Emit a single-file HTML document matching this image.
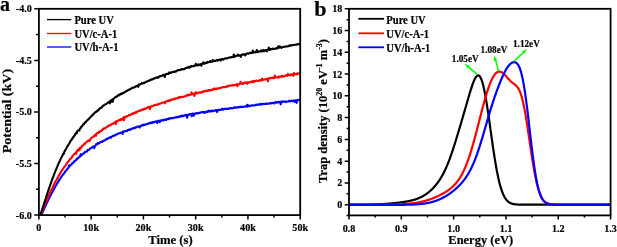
<!DOCTYPE html>
<html><head><meta charset="utf-8"><style>
html,body{margin:0;padding:0;background:#fff;}
body{width:617px;height:247px;overflow:hidden;font-family:"Liberation Serif",serif;}
svg{display:block;filter:blur(0.3px);}
</style></head><body>
<svg width="617" height="247" viewBox="0 0 617 247"><rect width="617" height="247" fill="#fff"/><defs><clipPath id="cl"><rect x="39" y="9" width="261" height="206"/></clipPath><clipPath id="cr"><rect x="349.5" y="9" width="261" height="206"/></clipPath></defs><g clip-path="url(#cl)" fill="none" stroke-width="2.1" stroke-linejoin="round"><path d="M40.20,217.35 L40.70,216.35 L41.20,215.31 L41.70,214.24 L42.20,213.15 L42.70,212.05 L43.20,210.95 L43.70,209.84 L44.20,208.74 L44.70,207.64 L45.20,206.55 L45.70,205.45 L46.20,204.37 L46.70,203.18 L47.20,202.22 L47.70,201.18 L48.20,200.16 L48.70,199.11 L49.20,198.13 L49.70,197.08 L50.20,196.09 L50.70,195.18 L51.20,194.16 L51.70,193.13 L52.20,192.20 L52.70,191.31 L53.20,190.50 L53.70,189.41 L54.20,188.51 L54.70,187.73 L55.20,186.68 L55.70,185.87 L56.20,185.13 L56.70,184.26 L57.20,183.38 L57.70,182.63 L58.20,181.39 L58.70,181.08 L59.20,180.04 L59.70,179.17 L60.20,178.68 L60.70,177.99 L61.20,177.09 L61.70,176.26 L62.20,175.72 L62.70,175.01 L63.20,174.56 L63.70,173.78 L64.20,173.01 L64.70,172.53 L65.20,171.64 L65.70,170.86 L66.20,170.53 L66.70,169.92 L67.20,169.16 L67.70,168.44 L68.20,168.07 L68.70,166.89 L69.20,165.35 L69.70,166.42 L70.20,165.37 L70.70,165.23 L71.20,164.44 L71.70,164.33 L72.20,163.11 L72.70,162.87 L73.20,162.79 L73.70,162.41 L74.20,161.02 L74.70,160.98 L75.20,160.73 L75.70,159.99 L76.20,160.14 L76.70,158.90 L77.20,158.87 L77.70,158.03 L78.20,158.27 L78.70,157.43 L79.20,156.89 L79.70,156.09 L80.20,156.61 L80.70,154.36 L81.20,155.52 L81.70,155.22 L82.20,154.59 L82.70,153.92 L83.20,153.47 L83.70,153.08 L84.20,153.30 L84.70,152.13 L85.20,151.99 L85.70,151.69 L86.20,151.48 L86.70,151.21 L87.20,151.45 L87.70,149.84 L88.20,149.97 L88.70,149.96 L89.20,149.49 L89.70,148.99 L90.20,148.50 L90.70,148.34 L91.20,147.85 L91.70,147.82 L92.20,147.04 L92.70,146.98 L93.20,146.59 L93.70,146.46 L94.20,148.12 L94.70,146.39 L95.20,145.79 L95.70,145.49 L96.20,144.20 L96.70,144.37 L97.20,144.00 L97.70,143.03 L98.20,142.95 L98.70,143.63 L99.20,143.31 L99.70,142.37 L100.20,142.18 L100.70,141.95 L101.20,141.91 L101.70,141.81 L102.20,141.93 L102.70,141.03 L103.20,141.04 L103.70,140.60 L104.20,140.79 L104.70,140.25 L105.20,140.17 L105.70,139.23 L106.20,139.23 L106.70,138.80 L107.20,139.20 L107.70,138.72 L108.20,138.21 L108.70,137.93 L109.20,137.95 L109.70,137.38 L110.20,137.08 L110.70,137.24 L111.20,137.56 L111.70,136.58 L112.20,136.26 L112.70,135.86 L113.20,135.59 L113.70,135.89 L114.20,135.76 L114.70,135.31 L115.20,135.18 L115.70,134.91 L116.20,134.70 L116.70,134.02 L117.20,134.11 L117.70,134.06 L118.20,133.60 L118.70,133.48 L119.20,133.18 L119.70,133.12 L120.20,133.25 L120.70,132.70 L121.20,132.57 L121.70,132.64 L122.20,132.40 L122.70,133.93 L123.20,131.25 L123.70,131.88 L124.20,131.32 L124.70,131.30 L125.20,131.32 L125.70,131.20 L126.20,131.00 L126.70,130.57 L127.20,130.80 L127.70,130.09 L128.20,129.95 L128.70,130.04 L129.20,129.48 L129.70,130.07 L130.20,129.57 L130.70,129.72 L131.20,128.94 L131.70,128.67 L132.20,128.65 L132.70,128.64 L133.20,128.11 L133.70,128.21 L134.20,127.93 L134.70,128.23 L135.20,127.43 L135.70,127.75 L136.20,127.11 L136.70,126.86 L137.20,126.78 L137.70,126.49 L138.20,126.70 L138.70,126.80 L139.20,126.40 L139.70,127.50 L140.20,126.51 L140.70,125.97 L141.20,125.80 L141.70,125.52 L142.20,125.00 L142.70,125.52 L143.20,124.67 L143.70,125.20 L144.20,124.86 L144.70,125.04 L145.20,124.56 L145.70,124.21 L146.20,124.40 L146.70,124.00 L147.20,123.97 L147.70,123.89 L148.20,123.71 L148.70,123.55 L149.20,123.24 L149.70,123.28 L150.20,122.60 L150.70,123.03 L151.20,122.60 L151.70,123.12 L152.20,123.03 L152.70,122.00 L153.20,122.45 L153.70,122.25 L154.20,121.86 L154.70,122.18 L155.20,121.77 L155.70,121.28 L156.20,121.58 L156.70,121.49 L157.20,123.11 L157.70,120.94 L158.20,121.33 L158.70,121.24 L159.20,120.59 L159.70,122.26 L160.20,120.65 L160.70,120.40 L161.20,120.93 L161.70,120.38 L162.20,119.92 L162.70,119.87 L163.20,119.95 L163.70,120.50 L164.20,119.69 L164.70,119.66 L165.20,119.66 L165.70,119.39 L166.20,119.93 L166.70,119.03 L167.20,119.27 L167.70,119.00 L168.20,119.02 L168.70,118.41 L169.20,119.12 L169.70,118.49 L170.20,118.42 L170.70,118.04 L171.20,117.99 L171.70,118.25 L172.20,118.26 L172.70,118.09 L173.20,118.12 L173.70,117.87 L174.20,117.58 L174.70,117.70 L175.20,117.53 L175.70,117.23 L176.20,117.36 L176.70,117.42 L177.20,117.02 L177.70,116.76 L178.20,116.96 L178.70,117.19 L179.20,116.50 L179.70,116.44 L180.20,116.33 L180.70,116.61 L181.20,115.66 L181.70,116.18 L182.20,116.31 L182.70,115.66 L183.20,116.21 L183.70,115.84 L184.20,115.45 L184.70,115.56 L185.20,114.98 L185.70,115.16 L186.20,115.74 L186.70,114.88 L187.20,117.75 L187.70,114.93 L188.20,115.14 L188.70,114.78 L189.20,114.05 L189.70,114.43 L190.20,114.55 L190.70,114.09 L191.20,113.94 L191.70,116.27 L192.20,113.96 L192.70,113.58 L193.20,113.78 L193.70,115.79 L194.20,113.66 L194.70,113.97 L195.20,114.05 L195.70,113.55 L196.20,113.14 L196.70,113.00 L197.20,113.28 L197.70,113.45 L198.20,113.19 L198.70,113.19 L199.20,112.83 L199.70,112.95 L200.20,112.65 L200.70,112.61 L201.20,112.26 L201.70,112.10 L202.20,112.32 L202.70,112.07 L203.20,112.03 L203.70,112.40 L204.20,112.10 L204.70,112.87 L205.20,112.23 L205.70,111.72 L206.20,112.03 L206.70,111.84 L207.20,111.47 L207.70,111.89 L208.20,111.29 L208.70,110.57 L209.20,111.57 L209.70,111.10 L210.20,111.61 L210.70,110.94 L211.20,110.71 L211.70,111.40 L212.20,110.59 L212.70,110.87 L213.20,111.14 L213.70,110.69 L214.20,110.57 L214.70,110.54 L215.20,110.67 L215.70,110.14 L216.20,110.46 L216.70,110.38 L217.20,112.08 L217.70,109.98 L218.20,109.74 L218.70,110.13 L219.20,109.74 L219.70,109.86 L220.20,109.74 L220.70,109.96 L221.20,109.38 L221.70,109.47 L222.20,108.71 L222.70,109.10 L223.20,109.71 L223.70,109.02 L224.20,108.94 L224.70,108.73 L225.20,109.16 L225.70,108.98 L226.20,108.52 L226.70,108.97 L227.20,108.79 L227.70,108.86 L228.20,108.40 L228.70,109.00 L229.20,108.56 L229.70,108.34 L230.20,108.16 L230.70,108.17 L231.20,108.41 L231.70,108.03 L232.20,108.34 L232.70,108.13 L233.20,108.28 L233.70,108.06 L234.20,107.75 L234.70,107.16 L235.20,107.71 L235.70,107.79 L236.20,107.54 L236.70,107.59 L237.20,107.23 L237.70,107.19 L238.20,106.97 L238.70,107.55 L239.20,107.15 L239.70,106.90 L240.20,106.60 L240.70,106.86 L241.20,107.25 L241.70,106.91 L242.20,106.51 L242.70,107.05 L243.20,106.98 L243.70,106.79 L244.20,106.68 L244.70,106.72 L245.20,106.48 L245.70,106.48 L246.20,105.98 L246.70,106.56 L247.20,104.88 L247.70,106.58 L248.20,105.38 L248.70,106.08 L249.20,106.10 L249.70,105.66 L250.20,105.82 L250.70,105.84 L251.20,105.73 L251.70,105.36 L252.20,105.41 L252.70,105.67 L253.20,105.68 L253.70,105.29 L254.20,105.22 L254.70,105.19 L255.20,105.37 L255.70,104.72 L256.20,104.58 L256.70,104.93 L257.20,104.52 L257.70,104.60 L258.20,104.73 L258.70,104.78 L259.20,104.29 L259.70,104.75 L260.20,103.97 L260.70,104.56 L261.20,103.90 L261.70,103.93 L262.20,104.40 L262.70,104.05 L263.20,103.88 L263.70,103.92 L264.20,104.11 L264.70,103.91 L265.20,103.85 L265.70,104.10 L266.20,103.54 L266.70,103.55 L267.20,103.48 L267.70,103.89 L268.20,103.78 L268.70,103.80 L269.20,103.37 L269.70,103.28 L270.20,103.50 L270.70,103.10 L271.20,103.38 L271.70,103.29 L272.20,102.83 L272.70,102.95 L273.20,102.88 L273.70,103.34 L274.20,103.52 L274.70,102.71 L275.20,102.68 L275.70,101.98 L276.20,102.62 L276.70,102.50 L277.20,102.14 L277.70,102.60 L278.20,101.89 L278.70,102.21 L279.20,102.25 L279.70,101.80 L280.20,102.33 L280.70,104.41 L281.20,101.59 L281.70,101.52 L282.20,102.03 L282.70,101.79 L283.20,101.40 L283.70,101.60 L284.20,101.60 L284.70,101.53 L285.20,101.74 L285.70,101.56 L286.20,101.89 L286.70,101.72 L287.20,101.47 L287.70,101.53 L288.20,101.54 L288.70,101.31 L289.20,100.71 L289.70,101.23 L290.20,100.96 L290.70,101.33 L291.20,100.85 L291.70,100.91 L292.20,100.80 L292.70,101.12 L293.20,100.64 L293.70,100.46 L294.20,100.56 L294.70,101.86 L295.20,100.41 L295.70,100.30 L296.20,100.32 L296.70,102.91 L297.20,100.02 L297.70,100.09 L298.20,99.96 L298.70,100.15 L299.20,99.57 L299.70,99.65 L300.20,99.78" stroke="#0000ff"/><path d="M39.50,217.48 L40.00,216.46 L40.50,215.35 L41.00,214.18 L41.50,212.99 L42.00,211.77 L42.50,210.55 L43.00,209.32 L43.50,208.09 L44.00,206.87 L44.50,205.64 L45.00,204.43 L45.50,203.22 L46.00,202.03 L46.50,200.83 L47.00,199.69 L47.50,198.55 L48.00,197.36 L48.50,196.22 L49.00,195.13 L49.50,194.00 L50.00,192.88 L50.50,191.77 L51.00,190.66 L51.50,189.57 L52.00,188.64 L52.50,188.14 L53.00,186.46 L53.50,185.53 L54.00,184.56 L54.50,183.52 L55.00,182.52 L55.50,181.60 L56.00,180.50 L56.50,179.77 L57.00,178.83 L57.50,178.21 L58.00,177.19 L58.50,176.16 L59.00,175.34 L59.50,174.73 L60.00,173.88 L60.50,172.87 L61.00,172.01 L61.50,171.01 L62.00,170.40 L62.50,169.65 L63.00,168.80 L63.50,168.47 L64.00,167.10 L64.50,166.68 L65.00,166.06 L65.50,165.36 L66.00,164.91 L66.50,163.61 L67.00,163.06 L67.50,162.57 L68.00,161.91 L68.50,161.15 L69.00,160.41 L69.50,160.19 L70.00,159.08 L70.50,158.56 L71.00,158.43 L71.50,157.91 L72.00,157.10 L72.50,156.07 L73.00,155.48 L73.50,154.89 L74.00,154.25 L74.50,153.87 L75.00,153.79 L75.50,152.94 L76.00,153.91 L76.50,151.57 L77.00,150.93 L77.50,151.07 L78.00,149.64 L78.50,149.76 L79.00,148.77 L79.50,150.22 L80.00,147.75 L80.50,147.94 L81.00,147.15 L81.50,147.46 L82.00,145.92 L82.50,145.43 L83.00,145.42 L83.50,144.95 L84.00,144.25 L84.50,143.30 L85.00,143.82 L85.50,143.13 L86.00,142.63 L86.50,141.91 L87.00,141.82 L87.50,141.05 L88.00,140.79 L88.50,140.30 L89.00,140.29 L89.50,141.17 L90.00,140.32 L90.50,139.01 L91.00,138.35 L91.50,137.88 L92.00,137.42 L92.50,137.36 L93.00,136.52 L93.50,136.45 L94.00,136.50 L94.50,135.66 L95.00,134.95 L95.50,134.46 L96.00,135.78 L96.50,133.71 L97.00,133.24 L97.50,133.12 L98.00,132.66 L98.50,132.86 L99.00,131.85 L99.50,132.35 L100.00,131.35 L100.50,131.25 L101.00,131.07 L101.50,130.60 L102.00,130.41 L102.50,129.59 L103.00,128.90 L103.50,129.16 L104.00,128.42 L104.50,128.40 L105.00,128.51 L105.50,127.87 L106.00,127.45 L106.50,126.98 L107.00,126.91 L107.50,126.63 L108.00,125.93 L108.50,126.15 L109.00,125.47 L109.50,125.53 L110.00,125.05 L110.50,125.16 L111.00,124.83 L111.50,124.30 L112.00,123.98 L112.50,123.85 L113.00,123.83 L113.50,123.46 L114.00,122.93 L114.50,122.69 L115.00,122.77 L115.50,121.60 L116.00,124.04 L116.50,121.27 L117.00,121.63 L117.50,120.85 L118.00,120.69 L118.50,120.16 L119.00,120.20 L119.50,120.16 L120.00,120.15 L120.50,119.08 L121.00,119.05 L121.50,120.02 L122.00,118.94 L122.50,118.43 L123.00,118.33 L123.50,117.19 L124.00,120.21 L124.50,117.50 L125.00,116.81 L125.50,117.30 L126.00,116.56 L126.50,116.21 L127.00,116.41 L127.50,116.14 L128.00,115.67 L128.50,115.55 L129.00,114.96 L129.50,114.71 L130.00,115.14 L130.50,115.03 L131.00,114.56 L131.50,114.32 L132.00,113.88 L132.50,113.74 L133.00,113.29 L133.50,113.83 L134.00,112.96 L134.50,113.02 L135.00,112.70 L135.50,112.09 L136.00,112.82 L136.50,111.96 L137.00,111.64 L137.50,111.68 L138.00,111.19 L138.50,111.25 L139.00,110.77 L139.50,110.99 L140.00,110.65 L140.50,110.05 L141.00,110.52 L141.50,110.09 L142.00,109.53 L142.50,109.74 L143.00,109.57 L143.50,109.78 L144.00,108.82 L144.50,109.11 L145.00,108.66 L145.50,108.67 L146.00,108.23 L146.50,108.10 L147.00,108.07 L147.50,107.41 L148.00,106.97 L148.50,107.38 L149.00,107.07 L149.50,107.04 L150.00,109.15 L150.50,106.59 L151.00,106.81 L151.50,106.29 L152.00,106.16 L152.50,106.18 L153.00,105.94 L153.50,105.57 L154.00,105.46 L154.50,105.04 L155.00,104.91 L155.50,104.94 L156.00,104.97 L156.50,104.45 L157.00,104.64 L157.50,104.78 L158.00,104.68 L158.50,103.91 L159.00,104.04 L159.50,103.75 L160.00,103.64 L160.50,103.49 L161.00,103.24 L161.50,103.16 L162.00,102.83 L162.50,102.54 L163.00,102.52 L163.50,102.43 L164.00,102.48 L164.50,102.09 L165.00,103.31 L165.50,102.07 L166.00,101.25 L166.50,101.29 L167.00,101.36 L167.50,101.06 L168.00,100.62 L168.50,101.03 L169.00,100.58 L169.50,100.17 L170.00,100.83 L170.50,99.79 L171.00,100.00 L171.50,99.67 L172.00,99.74 L172.50,99.72 L173.00,99.19 L173.50,99.25 L174.00,99.09 L174.50,98.71 L175.00,99.17 L175.50,98.75 L176.00,98.48 L176.50,98.23 L177.00,98.18 L177.50,98.18 L178.00,97.87 L178.50,98.21 L179.00,97.01 L179.50,96.98 L180.00,97.37 L180.50,96.79 L181.00,97.15 L181.50,96.85 L182.00,97.06 L182.50,96.88 L183.00,97.00 L183.50,96.76 L184.00,96.72 L184.50,96.38 L185.00,96.40 L185.50,96.11 L186.00,95.67 L186.50,95.36 L187.00,95.24 L187.50,95.59 L188.00,94.65 L188.50,95.24 L189.00,94.85 L189.50,95.14 L190.00,94.87 L190.50,94.47 L191.00,94.56 L191.50,92.44 L192.00,94.38 L192.50,94.31 L193.00,93.54 L193.50,94.17 L194.00,93.78 L194.50,95.93 L195.00,93.16 L195.50,93.61 L196.00,92.33 L196.50,93.19 L197.00,92.80 L197.50,93.17 L198.00,93.19 L198.50,92.83 L199.00,92.88 L199.50,92.32 L200.00,92.41 L200.50,92.35 L201.00,92.17 L201.50,92.80 L202.00,92.01 L202.50,91.62 L203.00,91.90 L203.50,91.24 L204.00,91.54 L204.50,91.53 L205.00,91.07 L205.50,91.00 L206.00,90.71 L206.50,90.90 L207.00,90.56 L207.50,91.13 L208.00,90.71 L208.50,90.35 L209.00,89.91 L209.50,90.76 L210.00,90.45 L210.50,90.10 L211.00,89.92 L211.50,89.80 L212.00,89.51 L212.50,90.06 L213.00,89.48 L213.50,88.91 L214.00,89.02 L214.50,88.37 L215.00,89.17 L215.50,89.09 L216.00,89.27 L216.50,89.25 L217.00,88.34 L217.50,88.58 L218.00,88.63 L218.50,88.46 L219.00,87.99 L219.50,88.25 L220.00,88.06 L220.50,88.20 L221.00,87.71 L221.50,87.54 L222.00,87.36 L222.50,87.29 L223.00,87.08 L223.50,87.10 L224.00,87.23 L224.50,87.12 L225.00,87.25 L225.50,87.09 L226.00,86.85 L226.50,86.25 L227.00,86.64 L227.50,86.70 L228.00,85.91 L228.50,85.86 L229.00,85.80 L229.50,85.68 L230.00,85.79 L230.50,85.51 L231.00,85.78 L231.50,85.23 L232.00,85.43 L232.50,85.23 L233.00,85.00 L233.50,85.46 L234.00,85.08 L234.50,85.13 L235.00,84.79 L235.50,84.98 L236.00,84.86 L236.50,84.54 L237.00,83.99 L237.50,86.30 L238.00,84.49 L238.50,84.25 L239.00,84.17 L239.50,84.04 L240.00,83.97 L240.50,81.81 L241.00,83.71 L241.50,83.72 L242.00,83.36 L242.50,83.17 L243.00,83.87 L243.50,83.42 L244.00,83.07 L244.50,82.93 L245.00,82.23 L245.50,82.48 L246.00,82.71 L246.50,83.05 L247.00,83.78 L247.50,82.31 L248.00,82.95 L248.50,82.51 L249.00,82.34 L249.50,82.47 L250.00,82.01 L250.50,81.90 L251.00,82.06 L251.50,82.01 L252.00,81.38 L252.50,82.02 L253.00,81.01 L253.50,81.21 L254.00,82.18 L254.50,81.08 L255.00,81.32 L255.50,80.77 L256.00,80.87 L256.50,80.67 L257.00,80.67 L257.50,80.87 L258.00,81.09 L258.50,80.75 L259.00,80.86 L259.50,80.19 L260.00,80.65 L260.50,80.31 L261.00,80.45 L261.50,79.86 L262.00,78.62 L262.50,80.18 L263.00,79.88 L263.50,79.65 L264.00,79.34 L264.50,79.42 L265.00,79.50 L265.50,79.48 L266.00,79.03 L266.50,79.00 L267.00,79.13 L267.50,78.61 L268.00,81.26 L268.50,78.75 L269.00,78.62 L269.50,77.90 L270.00,78.04 L270.50,78.11 L271.00,78.15 L271.50,77.91 L272.00,78.24 L272.50,78.09 L273.00,77.89 L273.50,77.31 L274.00,78.18 L274.50,77.63 L275.00,75.62 L275.50,77.35 L276.00,77.45 L276.50,77.56 L277.00,77.35 L277.50,77.47 L278.00,77.06 L278.50,77.59 L279.00,76.41 L279.50,76.70 L280.00,77.05 L280.50,76.62 L281.00,76.48 L281.50,76.02 L282.00,76.77 L282.50,75.82 L283.00,76.41 L283.50,76.24 L284.00,76.35 L284.50,76.43 L285.00,75.74 L285.50,75.62 L286.00,75.68 L286.50,75.20 L287.00,75.83 L287.50,75.41 L288.00,73.88 L288.50,75.03 L289.00,75.27 L289.50,75.01 L290.00,75.08 L290.50,74.71 L291.00,75.22 L291.50,74.67 L292.00,74.06 L292.50,74.87 L293.00,74.52 L293.50,75.82 L294.00,73.00 L294.50,74.34 L295.00,73.90 L295.50,74.02 L296.00,74.22 L296.50,73.97 L297.00,74.30 L297.50,73.15 L298.00,73.56 L298.50,73.71 L299.00,73.80 L299.50,73.43 L300.00,73.33 L300.50,73.63" stroke="#ff0000"/><path d="M38.80,217.25 L39.30,216.79 L39.80,215.89 L40.30,214.74 L40.80,213.44 L41.30,212.05 L41.80,210.59 L42.30,209.09 L42.80,207.57 L43.30,206.02 L43.80,204.46 L44.30,202.89 L44.80,201.33 L45.30,199.77 L45.80,198.21 L46.30,196.65 L46.80,195.11 L47.30,193.58 L47.80,192.11 L48.30,190.56 L48.80,189.10 L49.30,187.66 L49.80,186.23 L50.30,184.78 L50.80,183.40 L51.30,181.85 L51.80,180.50 L52.30,179.18 L52.80,177.89 L53.30,176.52 L53.80,175.10 L54.30,173.85 L54.80,172.44 L55.30,171.41 L55.80,169.92 L56.30,168.90 L56.80,167.80 L57.30,166.60 L57.80,165.14 L58.30,164.21 L58.80,163.02 L59.30,161.92 L59.80,161.09 L60.30,159.84 L60.80,158.54 L61.30,157.55 L61.80,156.81 L62.30,155.74 L62.80,154.53 L63.30,153.47 L63.80,153.88 L64.30,151.80 L64.80,151.11 L65.30,149.94 L65.80,149.29 L66.30,148.53 L66.80,147.10 L67.30,146.45 L67.80,146.07 L68.30,144.81 L68.80,144.09 L69.30,143.51 L69.80,142.32 L70.30,141.62 L70.80,140.55 L71.30,140.33 L71.80,139.32 L72.30,138.61 L72.80,137.30 L73.30,137.51 L73.80,136.72 L74.30,135.62 L74.80,135.48 L75.30,133.77 L75.80,133.76 L76.30,132.64 L76.80,133.22 L77.30,131.07 L77.80,130.81 L78.30,130.31 L78.80,130.12 L79.30,130.61 L79.80,128.76 L80.30,127.98 L80.80,128.05 L81.30,126.65 L81.80,126.35 L82.30,126.18 L82.80,124.76 L83.30,124.32 L83.80,124.29 L84.30,123.55 L84.80,122.51 L85.30,122.34 L85.80,122.33 L86.30,121.19 L86.80,120.96 L87.30,120.25 L87.80,119.50 L88.30,119.64 L88.80,118.95 L89.30,118.52 L89.80,117.64 L90.30,117.22 L90.80,116.77 L91.30,116.35 L91.80,115.65 L92.30,115.14 L92.80,115.18 L93.30,114.04 L93.80,113.77 L94.30,113.33 L94.80,112.84 L95.30,112.20 L95.80,111.88 L96.30,111.89 L96.80,111.13 L97.30,110.59 L97.80,110.84 L98.30,109.58 L98.80,109.83 L99.30,109.22 L99.80,108.33 L100.30,108.19 L100.80,107.79 L101.30,107.87 L101.80,107.37 L102.30,106.64 L102.80,106.00 L103.30,105.47 L103.80,105.51 L104.30,104.79 L104.80,104.75 L105.30,104.37 L105.80,104.17 L106.30,103.98 L106.80,103.36 L107.30,103.10 L107.80,102.57 L108.30,102.55 L108.80,102.14 L109.30,102.01 L109.80,103.41 L110.30,100.67 L110.80,102.14 L111.30,100.37 L111.80,100.18 L112.30,99.34 L112.80,101.79 L113.30,98.89 L113.80,98.52 L114.30,98.32 L114.80,97.50 L115.30,97.12 L115.80,97.17 L116.30,96.62 L116.80,96.64 L117.30,96.33 L117.80,95.30 L118.30,95.50 L118.80,95.57 L119.30,94.47 L119.80,94.73 L120.30,94.15 L120.80,93.68 L121.30,94.26 L121.80,93.96 L122.30,93.25 L122.80,92.94 L123.30,93.19 L123.80,92.86 L124.30,92.24 L124.80,92.21 L125.30,91.72 L125.80,91.33 L126.30,91.32 L126.80,90.76 L127.30,90.78 L127.80,90.28 L128.30,89.96 L128.80,89.66 L129.30,89.69 L129.80,89.57 L130.30,89.17 L130.80,88.55 L131.30,88.72 L131.80,88.04 L132.30,87.73 L132.80,87.74 L133.30,87.78 L133.80,87.50 L134.30,87.22 L134.80,87.21 L135.30,86.82 L135.80,86.24 L136.30,86.33 L136.80,85.80 L137.30,85.75 L137.80,85.57 L138.30,86.89 L138.80,84.53 L139.30,84.68 L139.80,84.41 L140.30,84.24 L140.80,83.93 L141.30,83.51 L141.80,83.16 L142.30,83.57 L142.80,83.39 L143.30,83.06 L143.80,82.73 L144.30,83.07 L144.80,82.50 L145.30,82.10 L145.80,82.12 L146.30,81.66 L146.80,81.67 L147.30,81.34 L147.80,81.21 L148.30,80.87 L148.80,80.53 L149.30,80.59 L149.80,80.56 L150.30,79.80 L150.80,79.70 L151.30,79.35 L151.80,79.70 L152.30,79.20 L152.80,79.31 L153.30,78.65 L153.80,78.91 L154.30,78.33 L154.80,78.17 L155.30,78.26 L155.80,77.81 L156.30,77.57 L156.80,77.80 L157.30,77.34 L157.80,77.52 L158.30,77.70 L158.80,76.66 L159.30,76.54 L159.80,76.03 L160.30,75.94 L160.80,76.26 L161.30,76.00 L161.80,75.82 L162.30,75.69 L162.80,75.15 L163.30,74.75 L163.80,75.34 L164.30,74.94 L164.80,76.98 L165.30,74.52 L165.80,74.57 L166.30,74.04 L166.80,74.02 L167.30,73.81 L167.80,73.79 L168.30,73.91 L168.80,73.53 L169.30,72.39 L169.80,73.00 L170.30,72.87 L170.80,72.92 L171.30,72.58 L171.80,72.19 L172.30,72.00 L172.80,71.97 L173.30,71.71 L173.80,72.14 L174.30,71.76 L174.80,71.45 L175.30,71.55 L175.80,71.72 L176.30,70.91 L176.80,70.81 L177.30,70.58 L177.80,70.17 L178.30,70.19 L178.80,69.95 L179.30,70.19 L179.80,70.04 L180.30,70.01 L180.80,69.40 L181.30,69.74 L181.80,69.05 L182.30,69.13 L182.80,69.39 L183.30,69.23 L183.80,69.04 L184.30,69.18 L184.80,68.75 L185.30,68.25 L185.80,68.11 L186.30,67.82 L186.80,67.96 L187.30,67.54 L187.80,67.44 L188.30,67.20 L188.80,66.87 L189.30,67.88 L189.80,67.31 L190.30,66.35 L190.80,66.91 L191.30,66.50 L191.80,65.92 L192.30,66.32 L192.80,66.31 L193.30,66.27 L193.80,66.29 L194.30,65.61 L194.80,65.70 L195.30,65.77 L195.80,63.86 L196.30,65.43 L196.80,65.22 L197.30,65.40 L197.80,64.58 L198.30,64.39 L198.80,65.16 L199.30,64.66 L199.80,64.73 L200.30,64.36 L200.80,64.07 L201.30,65.82 L201.80,63.96 L202.30,63.66 L202.80,63.65 L203.30,62.28 L203.80,63.65 L204.30,63.52 L204.80,63.62 L205.30,62.86 L205.80,62.92 L206.30,63.07 L206.80,62.78 L207.30,61.89 L207.80,62.55 L208.30,62.32 L208.80,62.08 L209.30,61.97 L209.80,61.77 L210.30,60.91 L210.80,61.92 L211.30,61.68 L211.80,61.81 L212.30,61.64 L212.80,59.95 L213.30,60.86 L213.80,60.75 L214.30,61.13 L214.80,60.80 L215.30,61.02 L215.80,60.72 L216.30,60.41 L216.80,60.00 L217.30,60.16 L217.80,60.74 L218.30,59.82 L218.80,59.67 L219.30,59.72 L219.80,60.04 L220.30,59.55 L220.80,60.56 L221.30,59.16 L221.80,59.18 L222.30,59.13 L222.80,59.28 L223.30,59.58 L223.80,59.15 L224.30,58.84 L224.80,58.55 L225.30,58.23 L225.80,58.50 L226.30,58.58 L226.80,58.35 L227.30,57.98 L227.80,58.09 L228.30,57.74 L228.80,57.65 L229.30,57.52 L229.80,57.50 L230.30,57.35 L230.80,57.54 L231.30,57.16 L231.80,57.02 L232.30,57.23 L232.80,57.03 L233.30,57.04 L233.80,54.54 L234.30,56.88 L234.80,56.41 L235.30,56.02 L235.80,56.16 L236.30,55.76 L236.80,55.72 L237.30,55.78 L237.80,54.71 L238.30,55.32 L238.80,55.66 L239.30,55.40 L239.80,55.80 L240.30,55.32 L240.80,56.83 L241.30,55.45 L241.80,54.66 L242.30,54.77 L242.80,54.35 L243.30,54.43 L243.80,54.64 L244.30,54.41 L244.80,54.46 L245.30,55.37 L245.80,53.96 L246.30,54.01 L246.80,53.71 L247.30,53.54 L247.80,53.31 L248.30,53.61 L248.80,53.66 L249.30,53.11 L249.80,53.22 L250.30,52.62 L250.80,52.82 L251.30,53.06 L251.80,52.59 L252.30,52.96 L252.80,50.49 L253.30,52.74 L253.80,52.39 L254.30,52.06 L254.80,52.34 L255.30,52.45 L255.80,52.01 L256.30,52.16 L256.80,49.96 L257.30,51.77 L257.80,52.10 L258.30,51.66 L258.80,51.32 L259.30,51.63 L259.80,51.39 L260.30,51.14 L260.80,51.38 L261.30,50.31 L261.80,51.15 L262.30,51.42 L262.80,50.89 L263.30,50.20 L263.80,50.99 L264.30,51.21 L264.80,50.58 L265.30,50.05 L265.80,50.06 L266.30,50.11 L266.80,51.48 L267.30,50.28 L267.80,50.02 L268.30,49.16 L268.80,47.68 L269.30,49.54 L269.80,49.99 L270.30,49.24 L270.80,48.93 L271.30,49.13 L271.80,49.19 L272.30,48.52 L272.80,49.22 L273.30,48.80 L273.80,48.97 L274.30,48.84 L274.80,48.70 L275.30,48.84 L275.80,48.82 L276.30,48.17 L276.80,48.17 L277.30,48.38 L277.80,48.04 L278.30,46.22 L278.80,47.84 L279.30,47.49 L279.80,46.44 L280.30,46.61 L280.80,47.48 L281.30,47.86 L281.80,47.46 L282.30,47.36 L282.80,47.13 L283.30,46.78 L283.80,47.03 L284.30,46.82 L284.80,46.68 L285.30,46.69 L285.80,46.38 L286.30,46.48 L286.80,46.53 L287.30,46.53 L287.80,46.21 L288.30,46.30 L288.80,46.03 L289.30,45.28 L289.80,45.28 L290.30,45.66 L290.80,45.32 L291.30,45.68 L291.80,45.08 L292.30,45.23 L292.80,45.11 L293.30,44.96 L293.80,44.91 L294.30,44.98 L294.80,44.92 L295.30,44.66 L295.80,44.76 L296.30,44.76 L296.80,44.47 L297.30,44.25 L297.80,44.16 L298.30,44.13 L298.80,44.02 L299.30,44.10 L299.80,44.72 L300.30,44.20" stroke="#000"/></g><g clip-path="url(#cr)" fill="none" stroke-width="2.2" stroke-linejoin="round"><path d="M349.00,204.69 L349.25,204.69 L349.50,204.69 L349.75,204.69 L350.00,204.69 L350.25,204.69 L350.50,204.68 L350.75,204.68 L351.00,204.68 L351.25,204.68 L351.50,204.68 L351.75,204.68 L352.00,204.68 L352.25,204.68 L352.50,204.68 L352.75,204.68 L353.00,204.68 L353.25,204.68 L353.50,204.68 L353.75,204.68 L354.00,204.67 L354.25,204.67 L354.50,204.67 L354.75,204.67 L355.00,204.67 L355.25,204.67 L355.50,204.67 L355.75,204.67 L356.00,204.67 L356.25,204.67 L356.50,204.66 L356.75,204.66 L357.00,204.66 L357.25,204.66 L357.50,204.66 L357.75,204.66 L358.00,204.66 L358.25,204.66 L358.50,204.65 L358.75,204.65 L359.00,204.65 L359.25,204.65 L359.50,204.65 L359.75,204.65 L360.00,204.64 L360.25,204.64 L360.50,204.64 L360.75,204.64 L361.00,204.64 L361.25,204.63 L361.50,204.63 L361.75,204.63 L362.00,204.63 L362.25,204.62 L362.50,204.62 L362.75,204.62 L363.00,204.62 L363.25,204.61 L363.50,204.61 L363.75,204.61 L364.00,204.61 L364.25,204.60 L364.50,204.60 L364.75,204.60 L365.00,204.59 L365.25,204.59 L365.50,204.59 L365.75,204.58 L366.00,204.58 L366.25,204.58 L366.50,204.57 L366.75,204.57 L367.00,204.57 L367.25,204.56 L367.50,204.56 L367.75,204.55 L368.00,204.55 L368.25,204.55 L368.50,204.54 L368.75,204.54 L369.00,204.53 L369.25,204.53 L369.50,204.52 L369.75,204.52 L370.00,204.51 L370.25,204.51 L370.50,204.50 L370.75,204.50 L371.00,204.49 L371.25,204.48 L371.50,204.48 L371.75,204.47 L372.00,204.47 L372.25,204.46 L372.50,204.45 L372.75,204.45 L373.00,204.44 L373.25,204.43 L373.50,204.43 L373.75,204.42 L374.00,204.41 L374.25,204.40 L374.50,204.40 L374.75,204.39 L375.00,204.38 L375.25,204.37 L375.50,204.36 L375.75,204.36 L376.00,204.35 L376.25,204.34 L376.50,204.33 L376.75,204.32 L377.00,204.31 L377.25,204.30 L377.50,204.29 L377.75,204.28 L378.00,204.27 L378.25,204.26 L378.50,204.25 L378.75,204.24 L379.00,204.23 L379.25,204.22 L379.50,204.21 L379.75,204.20 L380.00,204.18 L380.25,204.17 L380.50,204.16 L380.75,204.15 L381.00,204.14 L381.25,204.12 L381.50,204.11 L381.75,204.10 L382.00,204.08 L382.25,204.07 L382.50,204.06 L382.75,204.04 L383.00,204.03 L383.25,204.01 L383.50,204.00 L383.75,203.98 L384.00,203.97 L384.25,203.95 L384.50,203.94 L384.75,203.92 L385.00,203.91 L385.25,203.89 L385.50,203.87 L385.75,203.86 L386.00,203.84 L386.25,203.82 L386.50,203.81 L386.75,203.79 L387.00,203.77 L387.25,203.75 L387.50,203.73 L387.75,203.71 L388.00,203.69 L388.25,203.68 L388.50,203.66 L388.75,203.64 L389.00,203.62 L389.25,203.60 L389.50,203.58 L389.75,203.55 L390.00,203.53 L390.25,203.51 L390.50,203.49 L390.75,203.47 L391.00,203.45 L391.25,203.43 L391.50,203.40 L391.75,203.38 L392.00,203.36 L392.25,203.33 L392.50,203.31 L392.75,203.29 L393.00,203.26 L393.25,203.24 L393.50,203.21 L393.75,203.19 L394.00,203.16 L394.25,203.14 L394.50,203.11 L394.75,203.09 L395.00,203.06 L395.25,203.03 L395.50,203.01 L395.75,202.98 L396.00,202.95 L396.25,202.92 L396.50,202.90 L396.75,202.87 L397.00,202.84 L397.25,202.81 L397.50,202.78 L397.75,202.75 L398.00,202.72 L398.25,202.69 L398.50,202.66 L398.75,202.63 L399.00,202.60 L399.25,202.57 L399.50,202.54 L399.75,202.51 L400.00,202.48 L400.25,202.44 L400.50,202.41 L400.75,202.38 L401.00,202.34 L401.25,202.31 L401.50,202.28 L401.75,202.24 L402.00,202.21 L402.25,202.17 L402.50,202.13 L402.75,202.10 L403.00,202.06 L403.25,202.03 L403.50,201.99 L403.75,201.95 L404.00,201.91 L404.25,201.87 L404.50,201.83 L404.75,201.79 L405.00,201.75 L405.25,201.71 L405.50,201.67 L405.75,201.63 L406.00,201.59 L406.25,201.55 L406.50,201.50 L406.75,201.46 L407.00,201.41 L407.25,201.37 L407.50,201.32 L407.75,201.28 L408.00,201.23 L408.25,201.18 L408.50,201.13 L408.75,201.08 L409.00,201.03 L409.25,200.98 L409.50,200.93 L409.75,200.88 L410.00,200.82 L410.25,200.77 L410.50,200.71 L410.75,200.65 L411.00,200.60 L411.25,200.54 L411.50,200.48 L411.75,200.42 L412.00,200.36 L412.25,200.29 L412.50,200.23 L412.75,200.16 L413.00,200.10 L413.25,200.03 L413.50,199.96 L413.75,199.89 L414.00,199.82 L414.25,199.75 L414.50,199.67 L414.75,199.60 L415.00,199.52 L415.25,199.44 L415.50,199.36 L415.75,199.28 L416.00,199.19 L416.25,199.11 L416.50,199.02 L416.75,198.93 L417.00,198.84 L417.25,198.75 L417.50,198.66 L417.75,198.56 L418.00,198.46 L418.25,198.37 L418.50,198.26 L418.75,198.16 L419.00,198.05 L419.25,197.95 L419.50,197.84 L419.75,197.73 L420.00,197.61 L420.25,197.50 L420.50,197.38 L420.75,197.26 L421.00,197.14 L421.25,197.01 L421.50,196.88 L421.75,196.75 L422.00,196.62 L422.25,196.49 L422.50,196.35 L422.75,196.21 L423.00,196.07 L423.25,195.93 L423.50,195.78 L423.75,195.63 L424.00,195.48 L424.25,195.33 L424.50,195.17 L424.75,195.01 L425.00,194.85 L425.25,194.68 L425.50,194.52 L425.75,194.35 L426.00,194.18 L426.25,194.00 L426.50,193.82 L426.75,193.64 L427.00,193.46 L427.25,193.27 L427.50,193.08 L427.75,192.89 L428.00,192.70 L428.25,192.50 L428.50,192.30 L428.75,192.10 L429.00,191.89 L429.25,191.68 L429.50,191.47 L429.75,191.25 L430.00,191.04 L430.25,190.81 L430.50,190.59 L430.75,190.36 L431.00,190.13 L431.25,189.90 L431.50,189.66 L431.75,189.42 L432.00,189.18 L432.25,188.93 L432.50,188.68 L432.75,188.43 L433.00,188.17 L433.25,187.91 L433.50,187.65 L433.75,187.38 L434.00,187.11 L434.25,186.84 L434.50,186.56 L434.75,186.28 L435.00,185.99 L435.25,185.70 L435.50,185.41 L435.75,185.11 L436.00,184.80 L436.25,184.50 L436.50,184.19 L436.75,183.87 L437.00,183.55 L437.25,183.23 L437.50,182.90 L437.75,182.56 L438.00,182.22 L438.25,181.88 L438.50,181.53 L438.75,181.17 L439.00,180.81 L439.25,180.45 L439.50,180.07 L439.75,179.70 L440.00,179.31 L440.25,178.92 L440.50,178.53 L440.75,178.13 L441.00,177.72 L441.25,177.30 L441.50,176.88 L441.75,176.45 L442.00,176.02 L442.25,175.58 L442.50,175.13 L442.75,174.67 L443.00,174.21 L443.25,173.74 L443.50,173.26 L443.75,172.78 L444.00,172.29 L444.25,171.79 L444.50,171.28 L444.75,170.76 L445.00,170.24 L445.25,169.71 L445.50,169.17 L445.75,168.62 L446.00,168.06 L446.25,167.50 L446.50,166.93 L446.75,166.35 L447.00,165.76 L447.25,165.16 L447.50,164.56 L447.75,163.94 L448.00,163.32 L448.25,162.69 L448.50,162.06 L448.75,161.41 L449.00,160.76 L449.25,160.10 L449.50,159.43 L449.75,158.76 L450.00,158.07 L450.25,157.38 L450.50,156.69 L450.75,155.98 L451.00,155.27 L451.25,154.55 L451.50,153.83 L451.75,153.10 L452.00,152.36 L452.25,151.62 L452.50,150.87 L452.75,150.11 L453.00,149.35 L453.25,148.58 L453.50,147.81 L453.75,147.04 L454.00,146.26 L454.25,145.47 L454.50,144.68 L454.75,143.89 L455.00,143.09 L455.25,142.29 L455.50,141.48 L455.75,140.67 L456.00,139.86 L456.25,139.05 L456.50,138.23 L456.75,137.41 L457.00,136.59 L457.25,135.76 L457.50,134.94 L457.75,134.11 L458.00,133.28 L458.25,132.45 L458.50,131.61 L458.75,130.78 L459.00,129.94 L459.25,129.10 L459.50,128.26 L459.75,127.42 L460.00,126.58 L460.25,125.74 L460.50,124.89 L460.75,124.05 L461.00,123.20 L461.25,122.35 L461.50,121.51 L461.75,120.66 L462.00,119.81 L462.25,118.95 L462.50,118.10 L462.75,117.25 L463.00,116.39 L463.25,115.54 L463.50,114.68 L463.75,113.82 L464.00,112.97 L464.25,112.11 L464.50,111.25 L464.75,110.38 L465.00,109.52 L465.25,108.66 L465.50,107.80 L465.75,106.93 L466.00,106.07 L466.25,105.20 L466.50,104.34 L466.75,103.47 L467.00,102.61 L467.25,101.74 L467.50,100.88 L467.75,100.02 L468.00,99.16 L468.25,98.30 L468.50,97.44 L468.75,96.59 L469.00,95.74 L469.25,94.90 L469.50,94.06 L469.75,93.23 L470.00,92.40 L470.25,91.58 L470.50,90.76 L470.75,89.96 L471.00,89.17 L471.25,88.38 L471.50,87.61 L471.75,86.85 L472.00,86.10 L472.25,85.37 L472.50,84.65 L472.75,83.95 L473.00,83.27 L473.25,82.61 L473.50,81.97 L473.75,81.35 L474.00,80.75 L474.25,80.18 L474.50,79.63 L474.75,79.11 L475.00,78.62 L475.25,78.16 L475.50,77.73 L475.75,77.33 L476.00,76.97 L476.25,76.64 L476.50,76.35 L476.75,76.09 L477.00,75.88 L477.25,75.70 L477.50,75.57 L477.75,75.47 L478.00,75.42 L478.25,75.42 L478.50,75.46 L478.75,75.54 L479.00,75.68 L479.25,75.86 L479.50,76.09 L479.75,76.37 L480.00,76.69 L480.25,77.07 L480.50,77.50 L480.75,77.98 L481.00,78.51 L481.25,79.09 L481.50,79.72 L481.75,80.41 L482.00,81.14 L482.25,81.93 L482.50,82.76 L482.75,83.65 L483.00,84.58 L483.25,85.57 L483.50,86.60 L483.75,87.68 L484.00,88.80 L484.25,89.97 L484.50,91.18 L484.75,92.44 L485.00,93.74 L485.25,95.08 L485.50,96.46 L485.75,97.87 L486.00,99.32 L486.25,100.81 L486.50,102.33 L486.75,103.88 L487.00,105.46 L487.25,107.06 L487.50,108.69 L487.75,110.35 L488.00,112.03 L488.25,113.73 L488.50,115.44 L488.75,117.17 L489.00,118.92 L489.25,120.68 L489.50,122.45 L489.75,124.22 L490.00,126.00 L490.25,127.79 L490.50,129.58 L490.75,131.37 L491.00,133.16 L491.25,134.94 L491.50,136.72 L491.75,138.49 L492.00,140.26 L492.25,142.01 L492.50,143.75 L492.75,145.48 L493.00,147.19 L493.25,148.88 L493.50,150.56 L493.75,152.22 L494.00,153.86 L494.25,155.47 L494.50,157.07 L494.75,158.64 L495.00,160.18 L495.25,161.70 L495.50,163.19 L495.75,164.65 L496.00,166.09 L496.25,167.50 L496.50,168.87 L496.75,170.22 L497.00,171.54 L497.25,172.82 L497.50,174.08 L497.75,175.30 L498.00,176.49 L498.25,177.65 L498.50,178.78 L498.75,179.88 L499.00,180.94 L499.25,181.97 L499.50,182.97 L499.75,183.94 L500.00,184.88 L500.25,185.79 L500.50,186.67 L500.75,187.52 L501.00,188.33 L501.25,189.12 L501.50,189.88 L501.75,190.61 L502.00,191.32 L502.25,191.99 L502.50,192.64 L502.75,193.27 L503.00,193.87 L503.25,194.44 L503.50,194.99 L503.75,195.51 L504.00,196.02 L504.25,196.50 L504.50,196.95 L504.75,197.39 L505.00,197.81 L505.25,198.20 L505.50,198.58 L505.75,198.94 L506.00,199.28 L506.25,199.61 L506.50,199.92 L506.75,200.21 L507.00,200.49 L507.25,200.75 L507.50,201.00 L507.75,201.23 L508.00,201.46 L508.25,201.67 L508.50,201.86 L508.75,202.05 L509.00,202.23 L509.25,202.39 L509.50,202.55 L509.75,202.70 L510.00,202.83 L510.25,202.96 L510.50,203.08 L510.75,203.20 L511.00,203.30 L511.25,203.40 L511.50,203.50 L511.75,203.59 L512.00,203.67 L512.25,203.74 L512.50,203.82 L512.75,203.88 L513.00,203.94 L513.25,204.00 L513.50,204.06 L513.75,204.11 L514.00,204.15 L514.25,204.19 L514.50,204.23 L514.75,204.27 L515.00,204.31 L515.25,204.34 L515.50,204.37 L515.75,204.39 L516.00,204.42 L516.25,204.44 L516.50,204.46 L516.75,204.48 L517.00,204.50 L517.25,204.52 L517.50,204.54 L517.75,204.55 L518.00,204.56 L518.25,204.57 L518.50,204.59 L518.75,204.60 L519.00,204.61 L519.25,204.61 L519.50,204.62 L519.75,204.63 L520.00,204.64 L520.25,204.64 L520.50,204.65 L520.75,204.65 L521.00,204.66 L521.25,204.66 L521.50,204.66 L521.75,204.67 L522.00,204.67 L522.25,204.67 L522.50,204.68 L522.75,204.68 L523.00,204.68 L523.25,204.68 L523.50,204.68 L523.75,204.69 L524.00,204.69 L524.25,204.69 L524.50,204.69 L524.75,204.69 L525.00,204.69 L525.25,204.69 L525.50,204.69 L525.75,204.69 L526.00,204.69 L526.25,204.70 L526.50,204.70 L526.75,204.70 L527.00,204.70 L527.25,204.70 L527.50,204.70 L527.75,204.70 L528.00,204.70 L528.25,204.70 L528.50,204.70 L528.75,204.70 L529.00,204.70 L529.25,204.70 L529.50,204.70 L529.75,204.70 L530.00,204.70 L530.25,204.70 L530.50,204.70 L530.75,204.70 L531.00,204.70 L531.25,204.70 L531.50,204.70 L531.75,204.70 L532.00,204.70 L532.25,204.70 L532.50,204.70 L532.75,204.70 L533.00,204.70 L533.25,204.70 L533.50,204.70 L533.75,204.70 L534.00,204.70 L534.25,204.70 L534.50,204.70 L534.75,204.70 L535.00,204.70 L535.25,204.70 L535.50,204.70 L535.75,204.70 L536.00,204.70 L536.25,204.70 L536.50,204.70 L536.75,204.70 L537.00,204.70 L537.25,204.70 L537.50,204.70 L537.75,204.70 L538.00,204.70 L538.25,204.70 L538.50,204.70 L538.75,204.70 L539.00,204.70 L539.25,204.70 L539.50,204.70 L539.75,204.70 L540.00,204.70 L540.25,204.70 L540.50,204.70 L540.75,204.70 L541.00,204.70 L541.25,204.70 L541.50,204.70 L541.75,204.70 L542.00,204.70 L542.25,204.70 L542.50,204.70 L542.75,204.70 L543.00,204.70 L543.25,204.70 L543.50,204.70 L543.75,204.70 L544.00,204.70 L544.25,204.70 L544.50,204.70 L544.75,204.70 L545.00,204.70 L545.25,204.70 L545.50,204.70 L545.75,204.70 L546.00,204.70 L546.25,204.70 L546.50,204.70 L546.75,204.70 L547.00,204.70 L547.25,204.70 L547.50,204.70 L547.75,204.70 L548.00,204.70 L548.25,204.70 L548.50,204.70 L548.75,204.70 L549.00,204.70 L549.25,204.70 L549.50,204.70 L549.75,204.70 L550.00,204.70 L550.25,204.70 L550.50,204.70 L550.75,204.70 L551.00,204.70 L551.25,204.70 L551.50,204.70 L551.75,204.70 L552.00,204.70 L552.25,204.70 L552.50,204.70 L552.75,204.70 L553.00,204.70 L553.25,204.70 L553.50,204.70 L553.75,204.70 L554.00,204.70 L554.25,204.70 L554.50,204.70 L554.75,204.70 L555.00,204.70 L555.25,204.70 L555.50,204.70 L555.75,204.70 L556.00,204.70 L556.25,204.70 L556.50,204.70 L556.75,204.70 L557.00,204.70 L557.25,204.70 L557.50,204.70 L557.75,204.70 L558.00,204.70 L558.25,204.70 L558.50,204.70 L558.75,204.70 L559.00,204.70 L559.25,204.70 L559.50,204.70 L559.75,204.70 L560.00,204.70 L560.25,204.70 L560.50,204.70 L560.75,204.70 L561.00,204.70 L561.25,204.70 L561.50,204.70 L561.75,204.70 L562.00,204.70 L562.25,204.70 L562.50,204.70 L562.75,204.70 L563.00,204.70 L563.25,204.70 L563.50,204.70 L563.75,204.70 L564.00,204.70 L564.25,204.70 L564.50,204.70 L564.75,204.70 L565.00,204.70 L565.25,204.70 L565.50,204.70 L565.75,204.70 L566.00,204.70 L566.25,204.70 L566.50,204.70 L566.75,204.70 L567.00,204.70 L567.25,204.70 L567.50,204.70 L567.75,204.70 L568.00,204.70 L568.25,204.70 L568.50,204.70 L568.75,204.70 L569.00,204.70 L569.25,204.70 L569.50,204.70 L569.75,204.70 L570.00,204.70 L570.25,204.70 L570.50,204.70 L570.75,204.70 L571.00,204.70 L571.25,204.70 L571.50,204.70 L571.75,204.70 L572.00,204.70 L572.25,204.70 L572.50,204.70 L572.75,204.70 L573.00,204.70 L573.25,204.70 L573.50,204.70 L573.75,204.70 L574.00,204.70 L574.25,204.70 L574.50,204.70 L574.75,204.70 L575.00,204.70 L575.25,204.70 L575.50,204.70 L575.75,204.70 L576.00,204.70 L576.25,204.70 L576.50,204.70 L576.75,204.70 L577.00,204.70 L577.25,204.70 L577.50,204.70 L577.75,204.70 L578.00,204.70 L578.25,204.70 L578.50,204.70 L578.75,204.70 L579.00,204.70 L579.25,204.70 L579.50,204.70 L579.75,204.70 L580.00,204.70 L580.25,204.70 L580.50,204.70 L580.75,204.70 L581.00,204.70 L581.25,204.70 L581.50,204.70 L581.75,204.70 L582.00,204.70 L582.25,204.70 L582.50,204.70 L582.75,204.70 L583.00,204.70 L583.25,204.70 L583.50,204.70 L583.75,204.70 L584.00,204.70 L584.25,204.70 L584.50,204.70 L584.75,204.70 L585.00,204.70 L585.25,204.70 L585.50,204.70 L585.75,204.70 L586.00,204.70 L586.25,204.70 L586.50,204.70 L586.75,204.70 L587.00,204.70 L587.25,204.70 L587.50,204.70 L587.75,204.70 L588.00,204.70 L588.25,204.70 L588.50,204.70 L588.75,204.70 L589.00,204.70 L589.25,204.70 L589.50,204.70 L589.75,204.70 L590.00,204.70 L590.25,204.70 L590.50,204.70 L590.75,204.70 L591.00,204.70 L591.25,204.70 L591.50,204.70 L591.75,204.70 L592.00,204.70 L592.25,204.70 L592.50,204.70 L592.75,204.70 L593.00,204.70 L593.25,204.70 L593.50,204.70 L593.75,204.70 L594.00,204.70 L594.25,204.70 L594.50,204.70 L594.75,204.70 L595.00,204.70 L595.25,204.70 L595.50,204.70 L595.75,204.70 L596.00,204.70 L596.25,204.70 L596.50,204.70 L596.75,204.70 L597.00,204.70 L597.25,204.70 L597.50,204.70 L597.75,204.70 L598.00,204.70 L598.25,204.70 L598.50,204.70 L598.75,204.70 L599.00,204.70 L599.25,204.70 L599.50,204.70 L599.75,204.70 L600.00,204.70 L600.25,204.70 L600.50,204.70 L600.75,204.70 L601.00,204.70 L601.25,204.70 L601.50,204.70 L601.75,204.70 L602.00,204.70 L602.25,204.70 L602.50,204.70 L602.75,204.70 L603.00,204.70 L603.25,204.70 L603.50,204.70 L603.75,204.70 L604.00,204.70 L604.25,204.70 L604.50,204.70 L604.75,204.70 L605.00,204.70 L605.25,204.70 L605.50,204.70 L605.75,204.70 L606.00,204.70 L606.25,204.70 L606.50,204.70 L606.75,204.70 L607.00,204.70 L607.25,204.70 L607.50,204.70 L607.75,204.70 L608.00,204.70 L608.25,204.70 L608.50,204.70 L608.75,204.70 L609.00,204.70 L609.25,204.70 L609.50,204.70 L609.75,204.70 L610.00,204.70 L610.25,204.70 L610.50,204.70 L610.75,204.70 L611.00,204.70" stroke="#000"/><path d="M349.00,204.70 L349.25,204.70 L349.50,204.70 L349.75,204.70 L350.00,204.70 L350.25,204.70 L350.50,204.70 L350.75,204.70 L351.00,204.70 L351.25,204.70 L351.50,204.70 L351.75,204.70 L352.00,204.70 L352.25,204.70 L352.50,204.70 L352.75,204.70 L353.00,204.70 L353.25,204.70 L353.50,204.70 L353.75,204.70 L354.00,204.70 L354.25,204.70 L354.50,204.70 L354.75,204.70 L355.00,204.70 L355.25,204.70 L355.50,204.70 L355.75,204.70 L356.00,204.70 L356.25,204.70 L356.50,204.70 L356.75,204.70 L357.00,204.70 L357.25,204.70 L357.50,204.70 L357.75,204.70 L358.00,204.70 L358.25,204.70 L358.50,204.70 L358.75,204.70 L359.00,204.70 L359.25,204.70 L359.50,204.70 L359.75,204.70 L360.00,204.70 L360.25,204.70 L360.50,204.70 L360.75,204.70 L361.00,204.70 L361.25,204.70 L361.50,204.70 L361.75,204.70 L362.00,204.70 L362.25,204.70 L362.50,204.70 L362.75,204.70 L363.00,204.70 L363.25,204.70 L363.50,204.70 L363.75,204.70 L364.00,204.70 L364.25,204.70 L364.50,204.70 L364.75,204.70 L365.00,204.70 L365.25,204.70 L365.50,204.70 L365.75,204.70 L366.00,204.70 L366.25,204.70 L366.50,204.70 L366.75,204.70 L367.00,204.70 L367.25,204.70 L367.50,204.70 L367.75,204.70 L368.00,204.70 L368.25,204.70 L368.50,204.70 L368.75,204.69 L369.00,204.69 L369.25,204.69 L369.50,204.69 L369.75,204.69 L370.00,204.69 L370.25,204.69 L370.50,204.69 L370.75,204.69 L371.00,204.69 L371.25,204.69 L371.50,204.69 L371.75,204.69 L372.00,204.69 L372.25,204.69 L372.50,204.69 L372.75,204.69 L373.00,204.69 L373.25,204.69 L373.50,204.69 L373.75,204.69 L374.00,204.69 L374.25,204.69 L374.50,204.69 L374.75,204.69 L375.00,204.69 L375.25,204.69 L375.50,204.69 L375.75,204.68 L376.00,204.68 L376.25,204.68 L376.50,204.68 L376.75,204.68 L377.00,204.68 L377.25,204.68 L377.50,204.68 L377.75,204.68 L378.00,204.68 L378.25,204.68 L378.50,204.68 L378.75,204.68 L379.00,204.68 L379.25,204.67 L379.50,204.67 L379.75,204.67 L380.00,204.67 L380.25,204.67 L380.50,204.67 L380.75,204.67 L381.00,204.67 L381.25,204.67 L381.50,204.66 L381.75,204.66 L382.00,204.66 L382.25,204.66 L382.50,204.66 L382.75,204.66 L383.00,204.66 L383.25,204.65 L383.50,204.65 L383.75,204.65 L384.00,204.65 L384.25,204.65 L384.50,204.65 L384.75,204.64 L385.00,204.64 L385.25,204.64 L385.50,204.64 L385.75,204.64 L386.00,204.63 L386.25,204.63 L386.50,204.63 L386.75,204.63 L387.00,204.62 L387.25,204.62 L387.50,204.62 L387.75,204.62 L388.00,204.61 L388.25,204.61 L388.50,204.61 L388.75,204.60 L389.00,204.60 L389.25,204.60 L389.50,204.59 L389.75,204.59 L390.00,204.59 L390.25,204.58 L390.50,204.58 L390.75,204.58 L391.00,204.57 L391.25,204.57 L391.50,204.56 L391.75,204.56 L392.00,204.55 L392.25,204.55 L392.50,204.55 L392.75,204.54 L393.00,204.54 L393.25,204.53 L393.50,204.52 L393.75,204.52 L394.00,204.51 L394.25,204.51 L394.50,204.50 L394.75,204.50 L395.00,204.49 L395.25,204.48 L395.50,204.48 L395.75,204.47 L396.00,204.46 L396.25,204.46 L396.50,204.45 L396.75,204.44 L397.00,204.43 L397.25,204.43 L397.50,204.42 L397.75,204.41 L398.00,204.40 L398.25,204.39 L398.50,204.38 L398.75,204.37 L399.00,204.36 L399.25,204.35 L399.50,204.34 L399.75,204.33 L400.00,204.32 L400.25,204.31 L400.50,204.30 L400.75,204.29 L401.00,204.28 L401.25,204.27 L401.50,204.25 L401.75,204.24 L402.00,204.23 L402.25,204.22 L402.50,204.20 L402.75,204.19 L403.00,204.18 L403.25,204.16 L403.50,204.15 L403.75,204.13 L404.00,204.12 L404.25,204.10 L404.50,204.08 L404.75,204.07 L405.00,204.05 L405.25,204.03 L405.50,204.02 L405.75,204.00 L406.00,203.98 L406.25,203.96 L406.50,203.94 L406.75,203.92 L407.00,203.90 L407.25,203.88 L407.50,203.86 L407.75,203.84 L408.00,203.82 L408.25,203.80 L408.50,203.77 L408.75,203.75 L409.00,203.73 L409.25,203.70 L409.50,203.68 L409.75,203.65 L410.00,203.63 L410.25,203.60 L410.50,203.57 L410.75,203.55 L411.00,203.52 L411.25,203.49 L411.50,203.46 L411.75,203.43 L412.00,203.40 L412.25,203.37 L412.50,203.34 L412.75,203.31 L413.00,203.28 L413.25,203.24 L413.50,203.21 L413.75,203.18 L414.00,203.14 L414.25,203.11 L414.50,203.07 L414.75,203.03 L415.00,203.00 L415.25,202.96 L415.50,202.92 L415.75,202.88 L416.00,202.84 L416.25,202.80 L416.50,202.76 L416.75,202.72 L417.00,202.67 L417.25,202.63 L417.50,202.59 L417.75,202.54 L418.00,202.49 L418.25,202.45 L418.50,202.40 L418.75,202.35 L419.00,202.30 L419.25,202.25 L419.50,202.20 L419.75,202.15 L420.00,202.10 L420.25,202.05 L420.50,202.00 L420.75,201.94 L421.00,201.89 L421.25,201.83 L421.50,201.77 L421.75,201.72 L422.00,201.66 L422.25,201.60 L422.50,201.54 L422.75,201.48 L423.00,201.42 L423.25,201.36 L423.50,201.29 L423.75,201.23 L424.00,201.16 L424.25,201.10 L424.50,201.03 L424.75,200.96 L425.00,200.89 L425.25,200.83 L425.50,200.76 L425.75,200.68 L426.00,200.61 L426.25,200.54 L426.50,200.47 L426.75,200.39 L427.00,200.32 L427.25,200.24 L427.50,200.16 L427.75,200.08 L428.00,200.00 L428.25,199.92 L428.50,199.84 L428.75,199.76 L429.00,199.68 L429.25,199.60 L429.50,199.51 L429.75,199.43 L430.00,199.34 L430.25,199.25 L430.50,199.16 L430.75,199.08 L431.00,198.99 L431.25,198.89 L431.50,198.80 L431.75,198.71 L432.00,198.62 L432.25,198.52 L432.50,198.43 L432.75,198.33 L433.00,198.23 L433.25,198.13 L433.50,198.04 L433.75,197.93 L434.00,197.83 L434.25,197.73 L434.50,197.63 L434.75,197.53 L435.00,197.42 L435.25,197.31 L435.50,197.21 L435.75,197.10 L436.00,196.99 L436.25,196.88 L436.50,196.77 L436.75,196.66 L437.00,196.55 L437.25,196.43 L437.50,196.32 L437.75,196.21 L438.00,196.09 L438.25,195.97 L438.50,195.85 L438.75,195.73 L439.00,195.61 L439.25,195.49 L439.50,195.37 L439.75,195.25 L440.00,195.12 L440.25,194.99 L440.50,194.87 L440.75,194.74 L441.00,194.61 L441.25,194.48 L441.50,194.35 L441.75,194.22 L442.00,194.08 L442.25,193.95 L442.50,193.81 L442.75,193.67 L443.00,193.53 L443.25,193.39 L443.50,193.25 L443.75,193.11 L444.00,192.96 L444.25,192.82 L444.50,192.67 L444.75,192.52 L445.00,192.37 L445.25,192.22 L445.50,192.06 L445.75,191.91 L446.00,191.75 L446.25,191.59 L446.50,191.43 L446.75,191.26 L447.00,191.10 L447.25,190.93 L447.50,190.76 L447.75,190.59 L448.00,190.41 L448.25,190.24 L448.50,190.06 L448.75,189.88 L449.00,189.69 L449.25,189.51 L449.50,189.32 L449.75,189.13 L450.00,188.93 L450.25,188.74 L450.50,188.54 L450.75,188.33 L451.00,188.13 L451.25,187.92 L451.50,187.70 L451.75,187.49 L452.00,187.27 L452.25,187.04 L452.50,186.82 L452.75,186.58 L453.00,186.35 L453.25,186.11 L453.50,185.87 L453.75,185.62 L454.00,185.37 L454.25,185.11 L454.50,184.85 L454.75,184.58 L455.00,184.31 L455.25,184.03 L455.50,183.75 L455.75,183.46 L456.00,183.17 L456.25,182.87 L456.50,182.57 L456.75,182.26 L457.00,181.95 L457.25,181.62 L457.50,181.30 L457.75,180.96 L458.00,180.62 L458.25,180.28 L458.50,179.92 L458.75,179.56 L459.00,179.19 L459.25,178.82 L459.50,178.44 L459.75,178.05 L460.00,177.65 L460.25,177.24 L460.50,176.83 L460.75,176.41 L461.00,175.98 L461.25,175.54 L461.50,175.10 L461.75,174.64 L462.00,174.18 L462.25,173.71 L462.50,173.23 L462.75,172.74 L463.00,172.24 L463.25,171.74 L463.50,171.22 L463.75,170.70 L464.00,170.16 L464.25,169.62 L464.50,169.06 L464.75,168.50 L465.00,167.92 L465.25,167.34 L465.50,166.75 L465.75,166.15 L466.00,165.53 L466.25,164.91 L466.50,164.28 L466.75,163.64 L467.00,162.98 L467.25,162.32 L467.50,161.65 L467.75,160.97 L468.00,160.27 L468.25,159.57 L468.50,158.86 L468.75,158.14 L469.00,157.40 L469.25,156.66 L469.50,155.91 L469.75,155.15 L470.00,154.38 L470.25,153.60 L470.50,152.81 L470.75,152.01 L471.00,151.20 L471.25,150.38 L471.50,149.56 L471.75,148.72 L472.00,147.88 L472.25,147.03 L472.50,146.17 L472.75,145.30 L473.00,144.43 L473.25,143.55 L473.50,142.66 L473.75,141.76 L474.00,140.85 L474.25,139.94 L474.50,139.03 L474.75,138.10 L475.00,137.17 L475.25,136.24 L475.50,135.30 L475.75,134.35 L476.00,133.40 L476.25,132.45 L476.50,131.49 L476.75,130.53 L477.00,129.57 L477.25,128.60 L477.50,127.63 L477.75,126.65 L478.00,125.68 L478.25,124.70 L478.50,123.72 L478.75,122.74 L479.00,121.76 L479.25,120.78 L479.50,119.80 L479.75,118.82 L480.00,117.84 L480.25,116.87 L480.50,115.89 L480.75,114.92 L481.00,113.95 L481.25,112.98 L481.50,112.01 L481.75,111.05 L482.00,110.09 L482.25,109.14 L482.50,108.19 L482.75,107.25 L483.00,106.31 L483.25,105.38 L483.50,104.45 L483.75,103.53 L484.00,102.62 L484.25,101.72 L484.50,100.82 L484.75,99.93 L485.00,99.05 L485.25,98.18 L485.50,97.32 L485.75,96.46 L486.00,95.62 L486.25,94.79 L486.50,93.97 L486.75,93.15 L487.00,92.35 L487.25,91.56 L487.50,90.79 L487.75,90.02 L488.00,89.27 L488.25,88.53 L488.50,87.80 L488.75,87.09 L489.00,86.39 L489.25,85.70 L489.50,85.02 L489.75,84.37 L490.00,83.72 L490.25,83.09 L490.50,82.48 L490.75,81.88 L491.00,81.29 L491.25,80.72 L491.50,80.17 L491.75,79.63 L492.00,79.11 L492.25,78.61 L492.50,78.12 L492.75,77.65 L493.00,77.19 L493.25,76.75 L493.50,76.33 L493.75,75.93 L494.00,75.55 L494.25,75.18 L494.50,74.83 L494.75,74.49 L495.00,74.18 L495.25,73.88 L495.50,73.60 L495.75,73.34 L496.00,73.10 L496.25,72.87 L496.50,72.66 L496.75,72.47 L497.00,72.30 L497.25,72.15 L497.50,72.01 L497.75,71.89 L498.00,71.79 L498.25,71.71 L498.50,71.64 L498.75,71.60 L499.00,71.56 L499.25,71.55 L499.50,71.55 L499.75,71.57 L500.00,71.61 L500.25,71.66 L500.50,71.72 L500.75,71.81 L501.00,71.90 L501.25,72.01 L501.50,72.14 L501.75,72.28 L502.00,72.43 L502.25,72.59 L502.50,72.77 L502.75,72.96 L503.00,73.16 L503.25,73.36 L503.50,73.58 L503.75,73.81 L504.00,74.05 L504.25,74.29 L504.50,74.54 L504.75,74.80 L505.00,75.07 L505.25,75.34 L505.50,75.61 L505.75,75.89 L506.00,76.17 L506.25,76.45 L506.50,76.74 L506.75,77.02 L507.00,77.31 L507.25,77.59 L507.50,77.88 L507.75,78.16 L508.00,78.44 L508.25,78.72 L508.50,78.99 L508.75,79.26 L509.00,79.53 L509.25,79.79 L509.50,80.05 L509.75,80.30 L510.00,80.55 L510.25,80.79 L510.50,81.03 L510.75,81.26 L511.00,81.48 L511.25,81.70 L511.50,81.91 L511.75,82.12 L512.00,82.32 L512.25,82.52 L512.50,82.72 L512.75,82.91 L513.00,83.10 L513.25,83.28 L513.50,83.47 L513.75,83.65 L514.00,83.84 L514.25,84.03 L514.50,84.22 L514.75,84.41 L515.00,84.61 L515.25,84.81 L515.50,85.03 L515.75,85.25 L516.00,85.48 L516.25,85.72 L516.50,85.98 L516.75,86.25 L517.00,86.54 L517.25,86.85 L517.50,87.17 L517.75,87.52 L518.00,87.89 L518.25,88.28 L518.50,88.70 L518.75,89.15 L519.00,89.62 L519.25,90.13 L519.50,90.66 L519.75,91.23 L520.00,91.83 L520.25,92.47 L520.50,93.14 L520.75,93.85 L521.00,94.59 L521.25,95.38 L521.50,96.20 L521.75,97.06 L522.00,97.96 L522.25,98.91 L522.50,99.89 L522.75,100.91 L523.00,101.97 L523.25,103.08 L523.50,104.22 L523.75,105.40 L524.00,106.62 L524.25,107.88 L524.50,109.18 L524.75,110.51 L525.00,111.87 L525.25,113.27 L525.50,114.71 L525.75,116.17 L526.00,117.66 L526.25,119.18 L526.50,120.73 L526.75,122.31 L527.00,123.90 L527.25,125.52 L527.50,127.15 L527.75,128.80 L528.00,130.47 L528.25,132.15 L528.50,133.84 L528.75,135.54 L529.00,137.24 L529.25,138.95 L529.50,140.66 L529.75,142.38 L530.00,144.08 L530.25,145.79 L530.50,147.49 L530.75,149.17 L531.00,150.85 L531.25,152.52 L531.50,154.17 L531.75,155.81 L532.00,157.43 L532.25,159.03 L532.50,160.60 L532.75,162.16 L533.00,163.69 L533.25,165.20 L533.50,166.68 L533.75,168.13 L534.00,169.55 L534.25,170.94 L534.50,172.31 L534.75,173.64 L535.00,174.94 L535.25,176.20 L535.50,177.44 L535.75,178.64 L536.00,179.80 L536.25,180.93 L536.50,182.03 L536.75,183.10 L537.00,184.12 L537.25,185.12 L537.50,186.08 L537.75,187.01 L538.00,187.90 L538.25,188.76 L538.50,189.59 L538.75,190.38 L539.00,191.15 L539.25,191.88 L539.50,192.58 L539.75,193.25 L540.00,193.89 L540.25,194.51 L540.50,195.09 L540.75,195.65 L541.00,196.18 L541.25,196.69 L541.50,197.17 L541.75,197.63 L542.00,198.06 L542.25,198.47 L542.50,198.86 L542.75,199.23 L543.00,199.58 L543.25,199.91 L543.50,200.22 L543.75,200.52 L544.00,200.79 L544.25,201.05 L544.50,201.30 L544.75,201.53 L545.00,201.74 L545.25,201.95 L545.50,202.14 L545.75,202.32 L546.00,202.48 L546.25,202.64 L546.50,202.79 L546.75,202.92 L547.00,203.05 L547.25,203.17 L547.50,203.28 L547.75,203.38 L548.00,203.48 L548.25,203.57 L548.50,203.65 L548.75,203.73 L549.00,203.80 L549.25,203.87 L549.50,203.93 L549.75,203.99 L550.00,204.04 L550.25,204.09 L550.50,204.14 L550.75,204.18 L551.00,204.22 L551.25,204.25 L551.50,204.29 L551.75,204.32 L552.00,204.35 L552.25,204.37 L552.50,204.40 L552.75,204.42 L553.00,204.44 L553.25,204.46 L553.50,204.48 L553.75,204.49 L554.00,204.51 L554.25,204.52 L554.50,204.53 L554.75,204.54 L555.00,204.56 L555.25,204.57 L555.50,204.57 L555.75,204.58 L556.00,204.59 L556.25,204.60 L556.50,204.60 L556.75,204.61 L557.00,204.62 L557.25,204.62 L557.50,204.63 L557.75,204.63 L558.00,204.64 L558.25,204.64 L558.50,204.64 L558.75,204.65 L559.00,204.65 L559.25,204.65 L559.50,204.66 L559.75,204.66 L560.00,204.66 L560.25,204.66 L560.50,204.66 L560.75,204.67 L561.00,204.67 L561.25,204.67 L561.50,204.67 L561.75,204.67 L562.00,204.67 L562.25,204.68 L562.50,204.68 L562.75,204.68 L563.00,204.68 L563.25,204.68 L563.50,204.68 L563.75,204.68 L564.00,204.68 L564.25,204.68 L564.50,204.68 L564.75,204.69 L565.00,204.69 L565.25,204.69 L565.50,204.69 L565.75,204.69 L566.00,204.69 L566.25,204.69 L566.50,204.69 L566.75,204.69 L567.00,204.69 L567.25,204.69 L567.50,204.69 L567.75,204.69 L568.00,204.69 L568.25,204.69 L568.50,204.69 L568.75,204.69 L569.00,204.69 L569.25,204.69 L569.50,204.69 L569.75,204.69 L570.00,204.69 L570.25,204.69 L570.50,204.70 L570.75,204.70 L571.00,204.70 L571.25,204.70 L571.50,204.70 L571.75,204.70 L572.00,204.70 L572.25,204.70 L572.50,204.70 L572.75,204.70 L573.00,204.70 L573.25,204.70 L573.50,204.70 L573.75,204.70 L574.00,204.70 L574.25,204.70 L574.50,204.70 L574.75,204.70 L575.00,204.70 L575.25,204.70 L575.50,204.70 L575.75,204.70 L576.00,204.70 L576.25,204.70 L576.50,204.70 L576.75,204.70 L577.00,204.70 L577.25,204.70 L577.50,204.70 L577.75,204.70 L578.00,204.70 L578.25,204.70 L578.50,204.70 L578.75,204.70 L579.00,204.70 L579.25,204.70 L579.50,204.70 L579.75,204.70 L580.00,204.70 L580.25,204.70 L580.50,204.70 L580.75,204.70 L581.00,204.70 L581.25,204.70 L581.50,204.70 L581.75,204.70 L582.00,204.70 L582.25,204.70 L582.50,204.70 L582.75,204.70 L583.00,204.70 L583.25,204.70 L583.50,204.70 L583.75,204.70 L584.00,204.70 L584.25,204.70 L584.50,204.70 L584.75,204.70 L585.00,204.70 L585.25,204.70 L585.50,204.70 L585.75,204.70 L586.00,204.70 L586.25,204.70 L586.50,204.70 L586.75,204.70 L587.00,204.70 L587.25,204.70 L587.50,204.70 L587.75,204.70 L588.00,204.70 L588.25,204.70 L588.50,204.70 L588.75,204.70 L589.00,204.70 L589.25,204.70 L589.50,204.70 L589.75,204.70 L590.00,204.70 L590.25,204.70 L590.50,204.70 L590.75,204.70 L591.00,204.70 L591.25,204.70 L591.50,204.70 L591.75,204.70 L592.00,204.70 L592.25,204.70 L592.50,204.70 L592.75,204.70 L593.00,204.70 L593.25,204.70 L593.50,204.70 L593.75,204.70 L594.00,204.70 L594.25,204.70 L594.50,204.70 L594.75,204.70 L595.00,204.70 L595.25,204.70 L595.50,204.70 L595.75,204.70 L596.00,204.70 L596.25,204.70 L596.50,204.70 L596.75,204.70 L597.00,204.70 L597.25,204.70 L597.50,204.70 L597.75,204.70 L598.00,204.70 L598.25,204.70 L598.50,204.70 L598.75,204.70 L599.00,204.70 L599.25,204.70 L599.50,204.70 L599.75,204.70 L600.00,204.70 L600.25,204.70 L600.50,204.70 L600.75,204.70 L601.00,204.70 L601.25,204.70 L601.50,204.70 L601.75,204.70 L602.00,204.70 L602.25,204.70 L602.50,204.70 L602.75,204.70 L603.00,204.70 L603.25,204.70 L603.50,204.70 L603.75,204.70 L604.00,204.70 L604.25,204.70 L604.50,204.70 L604.75,204.70 L605.00,204.70 L605.25,204.70 L605.50,204.70 L605.75,204.70 L606.00,204.70 L606.25,204.70 L606.50,204.70 L606.75,204.70 L607.00,204.70 L607.25,204.70 L607.50,204.70 L607.75,204.70 L608.00,204.70 L608.25,204.70 L608.50,204.70 L608.75,204.70 L609.00,204.70 L609.25,204.70 L609.50,204.70 L609.75,204.70 L610.00,204.70 L610.25,204.70 L610.50,204.70 L610.75,204.70 L611.00,204.70" stroke="#ff0000"/><path d="M349.00,204.90 L349.25,204.90 L349.50,204.90 L349.75,204.90 L350.00,204.90 L350.25,204.90 L350.50,204.90 L350.75,204.90 L351.00,204.90 L351.25,204.90 L351.50,204.90 L351.75,204.90 L352.00,204.90 L352.25,204.90 L352.50,204.90 L352.75,204.90 L353.00,204.90 L353.25,204.90 L353.50,204.90 L353.75,204.90 L354.00,204.90 L354.25,204.90 L354.50,204.90 L354.75,204.90 L355.00,204.90 L355.25,204.90 L355.50,204.90 L355.75,204.90 L356.00,204.90 L356.25,204.90 L356.50,204.90 L356.75,204.90 L357.00,204.90 L357.25,204.90 L357.50,204.90 L357.75,204.90 L358.00,204.90 L358.25,204.90 L358.50,204.90 L358.75,204.90 L359.00,204.90 L359.25,204.90 L359.50,204.90 L359.75,204.90 L360.00,204.90 L360.25,204.90 L360.50,204.90 L360.75,204.90 L361.00,204.90 L361.25,204.90 L361.50,204.90 L361.75,204.90 L362.00,204.90 L362.25,204.90 L362.50,204.90 L362.75,204.90 L363.00,204.90 L363.25,204.90 L363.50,204.90 L363.75,204.90 L364.00,204.90 L364.25,204.90 L364.50,204.90 L364.75,204.90 L365.00,204.90 L365.25,204.90 L365.50,204.90 L365.75,204.90 L366.00,204.90 L366.25,204.90 L366.50,204.90 L366.75,204.90 L367.00,204.90 L367.25,204.90 L367.50,204.90 L367.75,204.90 L368.00,204.90 L368.25,204.90 L368.50,204.90 L368.75,204.90 L369.00,204.90 L369.25,204.90 L369.50,204.90 L369.75,204.90 L370.00,204.90 L370.25,204.90 L370.50,204.90 L370.75,204.90 L371.00,204.90 L371.25,204.90 L371.50,204.90 L371.75,204.90 L372.00,204.90 L372.25,204.90 L372.50,204.90 L372.75,204.90 L373.00,204.90 L373.25,204.90 L373.50,204.90 L373.75,204.90 L374.00,204.90 L374.25,204.90 L374.50,204.90 L374.75,204.90 L375.00,204.90 L375.25,204.90 L375.50,204.90 L375.75,204.90 L376.00,204.90 L376.25,204.90 L376.50,204.90 L376.75,204.90 L377.00,204.90 L377.25,204.90 L377.50,204.90 L377.75,204.90 L378.00,204.90 L378.25,204.90 L378.50,204.90 L378.75,204.90 L379.00,204.90 L379.25,204.90 L379.50,204.90 L379.75,204.90 L380.00,204.90 L380.25,204.90 L380.50,204.90 L380.75,204.90 L381.00,204.90 L381.25,204.90 L381.50,204.90 L381.75,204.90 L382.00,204.90 L382.25,204.90 L382.50,204.90 L382.75,204.90 L383.00,204.90 L383.25,204.90 L383.50,204.90 L383.75,204.90 L384.00,204.90 L384.25,204.90 L384.50,204.90 L384.75,204.90 L385.00,204.90 L385.25,204.90 L385.50,204.90 L385.75,204.90 L386.00,204.89 L386.25,204.89 L386.50,204.89 L386.75,204.89 L387.00,204.89 L387.25,204.89 L387.50,204.89 L387.75,204.89 L388.00,204.89 L388.25,204.89 L388.50,204.89 L388.75,204.89 L389.00,204.89 L389.25,204.89 L389.50,204.89 L389.75,204.89 L390.00,204.89 L390.25,204.89 L390.50,204.89 L390.75,204.89 L391.00,204.89 L391.25,204.89 L391.50,204.89 L391.75,204.89 L392.00,204.89 L392.25,204.88 L392.50,204.88 L392.75,204.88 L393.00,204.88 L393.25,204.88 L393.50,204.88 L393.75,204.88 L394.00,204.88 L394.25,204.88 L394.50,204.88 L394.75,204.88 L395.00,204.88 L395.25,204.87 L395.50,204.87 L395.75,204.87 L396.00,204.87 L396.25,204.87 L396.50,204.87 L396.75,204.87 L397.00,204.87 L397.25,204.87 L397.50,204.86 L397.75,204.86 L398.00,204.86 L398.25,204.86 L398.50,204.86 L398.75,204.86 L399.00,204.85 L399.25,204.85 L399.50,204.85 L399.75,204.85 L400.00,204.85 L400.25,204.84 L400.50,204.84 L400.75,204.84 L401.00,204.84 L401.25,204.83 L401.50,204.83 L401.75,204.83 L402.00,204.83 L402.25,204.82 L402.50,204.82 L402.75,204.82 L403.00,204.81 L403.25,204.81 L403.50,204.81 L403.75,204.80 L404.00,204.80 L404.25,204.80 L404.50,204.79 L404.75,204.79 L405.00,204.79 L405.25,204.78 L405.50,204.78 L405.75,204.77 L406.00,204.77 L406.25,204.76 L406.50,204.76 L406.75,204.75 L407.00,204.75 L407.25,204.74 L407.50,204.74 L407.75,204.73 L408.00,204.72 L408.25,204.72 L408.50,204.71 L408.75,204.71 L409.00,204.70 L409.25,204.69 L409.50,204.68 L409.75,204.68 L410.00,204.67 L410.25,204.66 L410.50,204.65 L410.75,204.64 L411.00,204.64 L411.25,204.63 L411.50,204.62 L411.75,204.61 L412.00,204.60 L412.25,204.59 L412.50,204.58 L412.75,204.57 L413.00,204.55 L413.25,204.54 L413.50,204.53 L413.75,204.52 L414.00,204.51 L414.25,204.49 L414.50,204.48 L414.75,204.47 L415.00,204.45 L415.25,204.44 L415.50,204.42 L415.75,204.41 L416.00,204.39 L416.25,204.38 L416.50,204.36 L416.75,204.35 L417.00,204.33 L417.25,204.31 L417.50,204.29 L417.75,204.27 L418.00,204.25 L418.25,204.23 L418.50,204.21 L418.75,204.19 L419.00,204.17 L419.25,204.15 L419.50,204.13 L419.75,204.10 L420.00,204.08 L420.25,204.06 L420.50,204.03 L420.75,204.01 L421.00,203.98 L421.25,203.95 L421.50,203.93 L421.75,203.90 L422.00,203.87 L422.25,203.84 L422.50,203.81 L422.75,203.78 L423.00,203.75 L423.25,203.72 L423.50,203.68 L423.75,203.65 L424.00,203.61 L424.25,203.58 L424.50,203.54 L424.75,203.50 L425.00,203.47 L425.25,203.43 L425.50,203.39 L425.75,203.35 L426.00,203.31 L426.25,203.26 L426.50,203.22 L426.75,203.18 L427.00,203.13 L427.25,203.09 L427.50,203.04 L427.75,202.99 L428.00,202.94 L428.25,202.89 L428.50,202.84 L428.75,202.79 L429.00,202.74 L429.25,202.68 L429.50,202.63 L429.75,202.57 L430.00,202.51 L430.25,202.45 L430.50,202.39 L430.75,202.33 L431.00,202.27 L431.25,202.21 L431.50,202.14 L431.75,202.08 L432.00,202.01 L432.25,201.94 L432.50,201.87 L432.75,201.80 L433.00,201.73 L433.25,201.66 L433.50,201.58 L433.75,201.51 L434.00,201.43 L434.25,201.35 L434.50,201.27 L434.75,201.19 L435.00,201.11 L435.25,201.02 L435.50,200.94 L435.75,200.85 L436.00,200.76 L436.25,200.67 L436.50,200.58 L436.75,200.49 L437.00,200.40 L437.25,200.30 L437.50,200.21 L437.75,200.11 L438.00,200.01 L438.25,199.91 L438.50,199.80 L438.75,199.70 L439.00,199.59 L439.25,199.49 L439.50,199.38 L439.75,199.27 L440.00,199.16 L440.25,199.04 L440.50,198.93 L440.75,198.81 L441.00,198.69 L441.25,198.58 L441.50,198.45 L441.75,198.33 L442.00,198.21 L442.25,198.08 L442.50,197.95 L442.75,197.83 L443.00,197.70 L443.25,197.56 L443.50,197.43 L443.75,197.29 L444.00,197.16 L444.25,197.02 L444.50,196.88 L444.75,196.74 L445.00,196.59 L445.25,196.45 L445.50,196.30 L445.75,196.16 L446.00,196.01 L446.25,195.85 L446.50,195.70 L446.75,195.55 L447.00,195.39 L447.25,195.23 L447.50,195.07 L447.75,194.91 L448.00,194.75 L448.25,194.59 L448.50,194.42 L448.75,194.25 L449.00,194.08 L449.25,193.91 L449.50,193.74 L449.75,193.56 L450.00,193.39 L450.25,193.21 L450.50,193.03 L450.75,192.85 L451.00,192.67 L451.25,192.48 L451.50,192.30 L451.75,192.11 L452.00,191.92 L452.25,191.73 L452.50,191.53 L452.75,191.34 L453.00,191.14 L453.25,190.94 L453.50,190.74 L453.75,190.54 L454.00,190.33 L454.25,190.13 L454.50,189.92 L454.75,189.71 L455.00,189.49 L455.25,189.28 L455.50,189.06 L455.75,188.84 L456.00,188.62 L456.25,188.40 L456.50,188.17 L456.75,187.95 L457.00,187.72 L457.25,187.48 L457.50,187.25 L457.75,187.01 L458.00,186.77 L458.25,186.53 L458.50,186.28 L458.75,186.03 L459.00,185.78 L459.25,185.53 L459.50,185.27 L459.75,185.01 L460.00,184.75 L460.25,184.48 L460.50,184.22 L460.75,183.94 L461.00,183.67 L461.25,183.39 L461.50,183.11 L461.75,182.82 L462.00,182.53 L462.25,182.23 L462.50,181.94 L462.75,181.64 L463.00,181.33 L463.25,181.02 L463.50,180.70 L463.75,180.39 L464.00,180.06 L464.25,179.73 L464.50,179.40 L464.75,179.06 L465.00,178.72 L465.25,178.37 L465.50,178.02 L465.75,177.66 L466.00,177.30 L466.25,176.93 L466.50,176.55 L466.75,176.17 L467.00,175.78 L467.25,175.39 L467.50,174.99 L467.75,174.59 L468.00,174.18 L468.25,173.76 L468.50,173.33 L468.75,172.90 L469.00,172.46 L469.25,172.01 L469.50,171.56 L469.75,171.10 L470.00,170.63 L470.25,170.16 L470.50,169.68 L470.75,169.19 L471.00,168.69 L471.25,168.18 L471.50,167.67 L471.75,167.15 L472.00,166.62 L472.25,166.08 L472.50,165.53 L472.75,164.98 L473.00,164.41 L473.25,163.84 L473.50,163.26 L473.75,162.67 L474.00,162.08 L474.25,161.47 L474.50,160.86 L474.75,160.24 L475.00,159.61 L475.25,158.97 L475.50,158.32 L475.75,157.66 L476.00,157.00 L476.25,156.32 L476.50,155.64 L476.75,154.95 L477.00,154.26 L477.25,153.55 L477.50,152.84 L477.75,152.11 L478.00,151.38 L478.25,150.65 L478.50,149.90 L478.75,149.15 L479.00,148.39 L479.25,147.62 L479.50,146.85 L479.75,146.07 L480.00,145.28 L480.25,144.49 L480.50,143.69 L480.75,142.89 L481.00,142.08 L481.25,141.26 L481.50,140.44 L481.75,139.62 L482.00,138.79 L482.25,137.95 L482.50,137.11 L482.75,136.27 L483.00,135.42 L483.25,134.57 L483.50,133.72 L483.75,132.87 L484.00,132.01 L484.25,131.15 L484.50,130.29 L484.75,129.42 L485.00,128.56 L485.25,127.70 L485.50,126.83 L485.75,125.97 L486.00,125.10 L486.25,124.24 L486.50,123.37 L486.75,122.51 L487.00,121.65 L487.25,120.79 L487.50,119.93 L487.75,119.07 L488.00,118.22 L488.25,117.37 L488.50,116.52 L488.75,115.67 L489.00,114.83 L489.25,113.99 L489.50,113.16 L489.75,112.32 L490.00,111.50 L490.25,110.67 L490.50,109.86 L490.75,109.04 L491.00,108.23 L491.25,107.43 L491.50,106.63 L491.75,105.84 L492.00,105.05 L492.25,104.26 L492.50,103.48 L492.75,102.71 L493.00,101.94 L493.25,101.18 L493.50,100.42 L493.75,99.67 L494.00,98.92 L494.25,98.18 L494.50,97.44 L494.75,96.71 L495.00,95.99 L495.25,95.27 L495.50,94.55 L495.75,93.84 L496.00,93.14 L496.25,92.44 L496.50,91.74 L496.75,91.06 L497.00,90.37 L497.25,89.69 L497.50,89.02 L497.75,88.35 L498.00,87.68 L498.25,87.02 L498.50,86.37 L498.75,85.72 L499.00,85.08 L499.25,84.44 L499.50,83.80 L499.75,83.17 L500.00,82.55 L500.25,81.93 L500.50,81.32 L500.75,80.71 L501.00,80.11 L501.25,79.52 L501.50,78.93 L501.75,78.35 L502.00,77.77 L502.25,77.20 L502.50,76.64 L502.75,76.09 L503.00,75.54 L503.25,75.00 L503.50,74.47 L503.75,73.94 L504.00,73.43 L504.25,72.92 L504.50,72.43 L504.75,71.94 L505.00,71.46 L505.25,70.99 L505.50,70.53 L505.75,70.08 L506.00,69.65 L506.25,69.22 L506.50,68.80 L506.75,68.40 L507.00,68.01 L507.25,67.62 L507.50,67.25 L507.75,66.90 L508.00,66.55 L508.25,66.22 L508.50,65.90 L508.75,65.59 L509.00,65.29 L509.25,65.01 L509.50,64.74 L509.75,64.48 L510.00,64.24 L510.25,64.00 L510.50,63.79 L510.75,63.58 L511.00,63.39 L511.25,63.21 L511.50,63.04 L511.75,62.89 L512.00,62.76 L512.25,62.63 L512.50,62.52 L512.75,62.43 L513.00,62.35 L513.25,62.29 L513.50,62.24 L513.75,62.20 L514.00,62.19 L514.25,62.19 L514.50,62.21 L514.75,62.24 L515.00,62.30 L515.25,62.37 L515.50,62.47 L515.75,62.59 L516.00,62.72 L516.25,62.89 L516.50,63.07 L516.75,63.29 L517.00,63.52 L517.25,63.79 L517.50,64.09 L517.75,64.41 L518.00,64.77 L518.25,65.16 L518.50,65.59 L518.75,66.05 L519.00,66.54 L519.25,67.08 L519.50,67.66 L519.75,68.28 L520.00,68.94 L520.25,69.64 L520.50,70.39 L520.75,71.19 L521.00,72.03 L521.25,72.92 L521.50,73.86 L521.75,74.85 L522.00,75.89 L522.25,76.99 L522.50,78.13 L522.75,79.33 L523.00,80.58 L523.25,81.88 L523.50,83.23 L523.75,84.63 L524.00,86.09 L524.25,87.60 L524.50,89.16 L524.75,90.76 L525.00,92.42 L525.25,94.12 L525.50,95.86 L525.75,97.65 L526.00,99.49 L526.25,101.36 L526.50,103.27 L526.75,105.21 L527.00,107.19 L527.25,109.20 L527.50,111.23 L527.75,113.30 L528.00,115.38 L528.25,117.49 L528.50,119.61 L528.75,121.75 L529.00,123.89 L529.25,126.05 L529.50,128.21 L529.75,130.37 L530.00,132.53 L530.25,134.69 L530.50,136.84 L530.75,138.98 L531.00,141.11 L531.25,143.22 L531.50,145.31 L531.75,147.38 L532.00,149.43 L532.25,151.45 L532.50,153.44 L532.75,155.40 L533.00,157.33 L533.25,159.23 L533.50,161.08 L533.75,162.90 L534.00,164.68 L534.25,166.42 L534.50,168.11 L534.75,169.77 L535.00,171.37 L535.25,172.94 L535.50,174.45 L535.75,175.92 L536.00,177.34 L536.25,178.72 L536.50,180.05 L536.75,181.33 L537.00,182.57 L537.25,183.76 L537.50,184.90 L537.75,186.00 L538.00,187.05 L538.25,188.06 L538.50,189.02 L538.75,189.94 L539.00,190.82 L539.25,191.66 L539.50,192.46 L539.75,193.21 L540.00,193.93 L540.25,194.62 L540.50,195.27 L540.75,195.88 L541.00,196.46 L541.25,197.01 L541.50,197.53 L541.75,198.02 L542.00,198.48 L542.25,198.91 L542.50,199.32 L542.75,199.70 L543.00,200.06 L543.25,200.40 L543.50,200.71 L543.75,201.00 L544.00,201.28 L544.25,201.54 L544.50,201.78 L544.75,202.00 L545.00,202.21 L545.25,202.40 L545.50,202.58 L545.75,202.75 L546.00,202.91 L546.25,203.05 L546.50,203.19 L546.75,203.31 L547.00,203.43 L547.25,203.53 L547.50,203.63 L547.75,203.72 L548.00,203.81 L548.25,203.89 L548.50,203.96 L548.75,204.02 L549.00,204.09 L549.25,204.14 L549.50,204.20 L549.75,204.24 L550.00,204.29 L550.25,204.33 L550.50,204.37 L550.75,204.40 L551.00,204.44 L551.25,204.47 L551.50,204.49 L551.75,204.52 L552.00,204.54 L552.25,204.57 L552.50,204.59 L552.75,204.61 L553.00,204.62 L553.25,204.64 L553.50,204.65 L553.75,204.67 L554.00,204.68 L554.25,204.69 L554.50,204.71 L554.75,204.72 L555.00,204.73 L555.25,204.74 L555.50,204.74 L555.75,204.75 L556.00,204.76 L556.25,204.77 L556.50,204.77 L556.75,204.78 L557.00,204.79 L557.25,204.79 L557.50,204.80 L557.75,204.80 L558.00,204.81 L558.25,204.81 L558.50,204.81 L558.75,204.82 L559.00,204.82 L559.25,204.83 L559.50,204.83 L559.75,204.83 L560.00,204.84 L560.25,204.84 L560.50,204.84 L560.75,204.84 L561.00,204.85 L561.25,204.85 L561.50,204.85 L561.75,204.85 L562.00,204.86 L562.25,204.86 L562.50,204.86 L562.75,204.86 L563.00,204.86 L563.25,204.86 L563.50,204.87 L563.75,204.87 L564.00,204.87 L564.25,204.87 L564.50,204.87 L564.75,204.87 L565.00,204.87 L565.25,204.88 L565.50,204.88 L565.75,204.88 L566.00,204.88 L566.25,204.88 L566.50,204.88 L566.75,204.88 L567.00,204.88 L567.25,204.88 L567.50,204.88 L567.75,204.88 L568.00,204.88 L568.25,204.89 L568.50,204.89 L568.75,204.89 L569.00,204.89 L569.25,204.89 L569.50,204.89 L569.75,204.89 L570.00,204.89 L570.25,204.89 L570.50,204.89 L570.75,204.89 L571.00,204.89 L571.25,204.89 L571.50,204.89 L571.75,204.89 L572.00,204.89 L572.25,204.89 L572.50,204.89 L572.75,204.89 L573.00,204.89 L573.25,204.89 L573.50,204.89 L573.75,204.89 L574.00,204.89 L574.25,204.90 L574.50,204.90 L574.75,204.90 L575.00,204.90 L575.25,204.90 L575.50,204.90 L575.75,204.90 L576.00,204.90 L576.25,204.90 L576.50,204.90 L576.75,204.90 L577.00,204.90 L577.25,204.90 L577.50,204.90 L577.75,204.90 L578.00,204.90 L578.25,204.90 L578.50,204.90 L578.75,204.90 L579.00,204.90 L579.25,204.90 L579.50,204.90 L579.75,204.90 L580.00,204.90 L580.25,204.90 L580.50,204.90 L580.75,204.90 L581.00,204.90 L581.25,204.90 L581.50,204.90 L581.75,204.90 L582.00,204.90 L582.25,204.90 L582.50,204.90 L582.75,204.90 L583.00,204.90 L583.25,204.90 L583.50,204.90 L583.75,204.90 L584.00,204.90 L584.25,204.90 L584.50,204.90 L584.75,204.90 L585.00,204.90 L585.25,204.90 L585.50,204.90 L585.75,204.90 L586.00,204.90 L586.25,204.90 L586.50,204.90 L586.75,204.90 L587.00,204.90 L587.25,204.90 L587.50,204.90 L587.75,204.90 L588.00,204.90 L588.25,204.90 L588.50,204.90 L588.75,204.90 L589.00,204.90 L589.25,204.90 L589.50,204.90 L589.75,204.90 L590.00,204.90 L590.25,204.90 L590.50,204.90 L590.75,204.90 L591.00,204.90 L591.25,204.90 L591.50,204.90 L591.75,204.90 L592.00,204.90 L592.25,204.90 L592.50,204.90 L592.75,204.90 L593.00,204.90 L593.25,204.90 L593.50,204.90 L593.75,204.90 L594.00,204.90 L594.25,204.90 L594.50,204.90 L594.75,204.90 L595.00,204.90 L595.25,204.90 L595.50,204.90 L595.75,204.90 L596.00,204.90 L596.25,204.90 L596.50,204.90 L596.75,204.90 L597.00,204.90 L597.25,204.90 L597.50,204.90 L597.75,204.90 L598.00,204.90 L598.25,204.90 L598.50,204.90 L598.75,204.90 L599.00,204.90 L599.25,204.90 L599.50,204.90 L599.75,204.90 L600.00,204.90 L600.25,204.90 L600.50,204.90 L600.75,204.90 L601.00,204.90 L601.25,204.90 L601.50,204.90 L601.75,204.90 L602.00,204.90 L602.25,204.90 L602.50,204.90 L602.75,204.90 L603.00,204.90 L603.25,204.90 L603.50,204.90 L603.75,204.90 L604.00,204.90 L604.25,204.90 L604.50,204.90 L604.75,204.90 L605.00,204.90 L605.25,204.90 L605.50,204.90 L605.75,204.90 L606.00,204.90 L606.25,204.90 L606.50,204.90 L606.75,204.90 L607.00,204.90 L607.25,204.90 L607.50,204.90 L607.75,204.90 L608.00,204.90 L608.25,204.90 L608.50,204.90 L608.75,204.90 L609.00,204.90 L609.25,204.90 L609.50,204.90 L609.75,204.90 L610.00,204.90 L610.25,204.90 L610.50,204.90 L610.75,204.90 L611.00,204.90" stroke="#0000ff"/></g><g fill="none" stroke="#000" stroke-width="1.8"><rect x="38.9" y="8.8" width="261.3" height="206.3"/><rect x="349" y="8.8" width="261.6" height="206.6"/></g><path d="M34.3,8.80H38.9 M34.3,60.38H38.9 M34.3,111.95H38.9 M34.3,163.53H38.9 M34.3,215.10H38.9 M36,34.59H38.9 M36,86.16H38.9 M36,137.74H38.9 M36,189.31H38.9 M38.90,215.1V219.6 M91.16,215.1V219.6 M143.42,215.1V219.6 M195.68,215.1V219.6 M247.94,215.1V219.6 M300.20,215.1V219.6 M65.03,215.1V217.6 M117.29,215.1V217.6 M169.55,215.1V217.6 M221.81,215.1V217.6 M274.07,215.1V217.6 M344.7,204.70H349 M344.7,182.93H349 M344.7,161.16H349 M344.7,139.39H349 M344.7,117.62H349 M344.7,95.85H349 M344.7,74.08H349 M344.7,52.31H349 M344.7,30.54H349 M344.7,8.77H349 M346.6,215.58H349 M346.6,193.81H349 M346.6,172.04H349 M346.6,150.27H349 M346.6,128.50H349 M346.6,106.73H349 M346.6,84.96H349 M346.6,63.19H349 M346.6,41.42H349 M346.6,19.66H349 M349.00,215.4V219.6 M401.32,215.4V219.6 M453.64,215.4V219.6 M505.96,215.4V219.6 M558.28,215.4V219.6 M610.60,215.4V219.6 M375.16,215.4V217.6 M427.48,215.4V217.6 M479.80,215.4V217.6 M532.12,215.4V217.6 M584.44,215.4V217.6" stroke="#000" stroke-width="1.5" fill="none"/><g font-family="Liberation Serif" font-weight="bold" fill="#000" stroke="#000" stroke-width="0.2"><text x="0" y="10.6" font-size="20">a</text><text x="314.2" y="15.9" font-size="22">b</text><text transform="translate(31.80,12.30) scale(0.92,1)" font-size="11" text-anchor="end">-4.0</text><text transform="translate(31.80,63.88) scale(0.92,1)" font-size="11" text-anchor="end">-4.5</text><text transform="translate(31.80,115.45) scale(0.92,1)" font-size="11" text-anchor="end">-5.0</text><text transform="translate(31.80,167.03) scale(0.92,1)" font-size="11" text-anchor="end">-5.5</text><text transform="translate(31.80,218.60) scale(0.92,1)" font-size="11" text-anchor="end">-6.0</text><text transform="translate(38.90,231.30) scale(0.92,1)" font-size="11" text-anchor="middle">0</text><text transform="translate(91.16,231.30) scale(0.92,1)" font-size="11" text-anchor="middle">10k</text><text transform="translate(143.42,231.30) scale(0.92,1)" font-size="11" text-anchor="middle">20k</text><text transform="translate(195.68,231.30) scale(0.92,1)" font-size="11" text-anchor="middle">30k</text><text transform="translate(247.94,231.30) scale(0.92,1)" font-size="11" text-anchor="middle">40k</text><text transform="translate(300.20,231.30) scale(0.92,1)" font-size="11" text-anchor="middle">50k</text><text transform="translate(342.30,208.20) scale(0.92,1)" font-size="11" text-anchor="end">0</text><text transform="translate(342.30,186.43) scale(0.92,1)" font-size="11" text-anchor="end">2</text><text transform="translate(342.30,164.66) scale(0.92,1)" font-size="11" text-anchor="end">4</text><text transform="translate(342.30,142.89) scale(0.92,1)" font-size="11" text-anchor="end">6</text><text transform="translate(342.30,121.12) scale(0.92,1)" font-size="11" text-anchor="end">8</text><text transform="translate(342.30,99.35) scale(0.92,1)" font-size="11" text-anchor="end">10</text><text transform="translate(342.30,77.58) scale(0.92,1)" font-size="11" text-anchor="end">12</text><text transform="translate(342.30,55.81) scale(0.92,1)" font-size="11" text-anchor="end">14</text><text transform="translate(342.30,34.04) scale(0.92,1)" font-size="11" text-anchor="end">16</text><text transform="translate(342.30,12.27) scale(0.92,1)" font-size="11" text-anchor="end">18</text><text transform="translate(349.00,232.00) scale(0.92,1)" font-size="11" text-anchor="middle">0.8</text><text transform="translate(401.32,232.00) scale(0.92,1)" font-size="11" text-anchor="middle">0.9</text><text transform="translate(453.64,232.00) scale(0.92,1)" font-size="11" text-anchor="middle">1.0</text><text transform="translate(505.96,232.00) scale(0.92,1)" font-size="11" text-anchor="middle">1.1</text><text transform="translate(558.28,232.00) scale(0.92,1)" font-size="11" text-anchor="middle">1.2</text><text transform="translate(610.60,232.00) scale(0.92,1)" font-size="11" text-anchor="middle">1.3</text><text transform="translate(170.50,244.20) scale(0.975,1)" font-size="13" text-anchor="middle">Time (s)</text><text transform="translate(480.70,244.20) scale(0.96,1)" font-size="13" text-anchor="middle">Energy (eV)</text><text transform="translate(11.0,111.1) rotate(-90) scale(1,0.92)" font-size="14" text-anchor="middle">Potential (kV)</text><text transform="translate(327,111) rotate(-90)" font-size="12.5" text-anchor="middle">Trap density (10<tspan font-size="8" dy="-5">20</tspan><tspan dy="5"> eV</tspan><tspan font-size="8" dy="-5">-1</tspan><tspan dy="5"> m</tspan><tspan font-size="8" dy="-5">-3</tspan><tspan dy="5">)</tspan></text><path d="M47,19.6H71.3" stroke="#000" stroke-width="1.3"/><text transform="translate(74.40,23.60) scale(0.92,1)" font-size="11.5">Pure UV</text><path d="M47,33.5H71.3" stroke="#ff0000" stroke-width="1.3"/><text transform="translate(74.40,37.50) scale(0.92,1)" font-size="11.5">UV/c-A-1</text><path d="M47,47.0H71.3" stroke="#0000ff" stroke-width="1.3"/><text transform="translate(74.40,51.00) scale(0.92,1)" font-size="11.5">UV/h-A-1</text><path d="M358.4,18.8H384" stroke="#000" stroke-width="1.8"/><text transform="translate(386.30,23.80) scale(0.92,1)" font-size="11.5">Pure UV</text><path d="M358.4,33.3H384" stroke="#ff0000" stroke-width="1.8"/><text transform="translate(386.30,38.30) scale(0.92,1)" font-size="11.5">UV/c-A-1</text><path d="M358.4,47.3H384" stroke="#0000ff" stroke-width="1.8"/><text transform="translate(386.30,52.30) scale(0.92,1)" font-size="11.5">UV/h-A-1</text><text transform="translate(451.80,62.00) scale(0.92,1)" font-size="10">1.05eV</text><text transform="translate(480.60,52.90) scale(0.92,1)" font-size="10">1.08eV</text><text transform="translate(513.00,47.20) scale(0.92,1)" font-size="10">1.12eV</text></g><path d="M477.20,74.40L468.89,67.41" stroke="#00ff00" stroke-width="1.5"/><path d="M464.60,63.80L469.98,66.10L467.79,68.71Z" fill="#00ff00"/><path d="M498.60,71.20L495.70,60.79" stroke="#00ff00" stroke-width="1.5"/><path d="M494.20,55.40L497.34,60.34L494.06,61.25Z" fill="#00ff00"/><path d="M514.00,61.20L522.92,52.83" stroke="#00ff00" stroke-width="1.5"/><path d="M527.00,49.00L524.08,54.07L521.75,51.59Z" fill="#00ff00"/></svg>
</body></html>
